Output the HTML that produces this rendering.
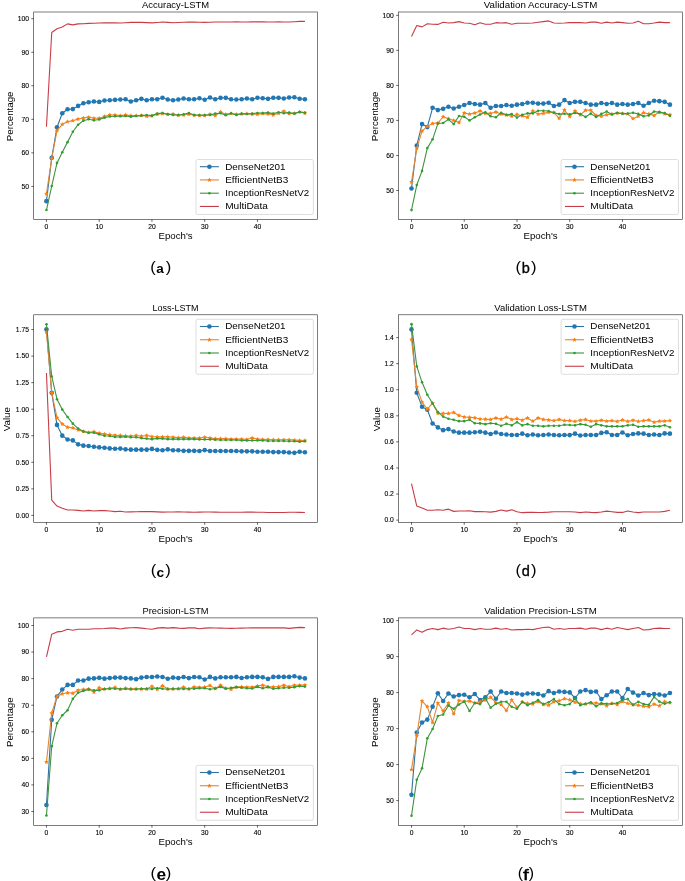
<!DOCTYPE html>
<html><head><meta charset="utf-8"><title>LSTM training curves</title>
<style>
html,body{margin:0;padding:0;background:#fff;overflow:hidden;}
svg{display:block;filter:blur(0.35px);}
text{font-family:"Liberation Sans", sans-serif;fill:#000;filter:url(#g);}
.tk{stroke:#000;stroke-width:0.12px;}
</style></head>
<body>
<svg width="685" height="881" viewBox="0 0 685 881">
<defs><filter id="g" x="-5%" y="-20%" width="110%" height="140%"><feColorMatrix type="saturate" values="0"/></filter></defs>
<rect width="685" height="881" fill="#fff"/>
<clipPath id="clipa"><rect x="33.7" y="12.0" width="283.7" height="207.5"/></clipPath>
<g clip-path="url(#clipa)">
<polyline points="46.45,201.16 51.73,157.89 57.00,127.20 62.28,113.28 67.55,109.26 72.83,109.09 78.10,105.90 83.38,103.22 88.65,102.21 93.93,101.54 99.20,101.88 104.48,100.54 109.75,100.20 115.03,99.87 120.30,99.53 125.58,99.20 130.85,101.54 136.12,100.20 141.40,98.86 146.68,100.20 151.95,99.20 157.23,99.20 162.50,97.69 167.78,99.53 173.05,100.20 178.32,99.53 183.60,98.53 188.88,99.20 194.15,99.20 199.43,98.19 204.70,99.70 209.98,97.52 215.25,99.20 220.53,97.85 225.80,97.85 231.07,99.20 236.35,99.53 241.62,99.20 246.90,98.53 252.18,99.20 257.45,97.69 262.73,98.19 268.00,98.86 273.28,97.69 278.55,97.85 283.83,98.53 289.10,97.52 294.38,97.18 299.65,98.69 304.93,99.20" fill="none" stroke="#34719c" stroke-width="1.1" stroke-linejoin="round"/>
<g fill="#1f77b4"><circle cx="46.45" cy="201.16" r="2.3"/><circle cx="51.73" cy="157.89" r="2.3"/><circle cx="57.00" cy="127.20" r="2.3"/><circle cx="62.28" cy="113.28" r="2.3"/><circle cx="67.55" cy="109.26" r="2.3"/><circle cx="72.83" cy="109.09" r="2.3"/><circle cx="78.10" cy="105.90" r="2.3"/><circle cx="83.38" cy="103.22" r="2.3"/><circle cx="88.65" cy="102.21" r="2.3"/><circle cx="93.93" cy="101.54" r="2.3"/><circle cx="99.20" cy="101.88" r="2.3"/><circle cx="104.48" cy="100.54" r="2.3"/><circle cx="109.75" cy="100.20" r="2.3"/><circle cx="115.03" cy="99.87" r="2.3"/><circle cx="120.30" cy="99.53" r="2.3"/><circle cx="125.58" cy="99.20" r="2.3"/><circle cx="130.85" cy="101.54" r="2.3"/><circle cx="136.12" cy="100.20" r="2.3"/><circle cx="141.40" cy="98.86" r="2.3"/><circle cx="146.68" cy="100.20" r="2.3"/><circle cx="151.95" cy="99.20" r="2.3"/><circle cx="157.23" cy="99.20" r="2.3"/><circle cx="162.50" cy="97.69" r="2.3"/><circle cx="167.78" cy="99.53" r="2.3"/><circle cx="173.05" cy="100.20" r="2.3"/><circle cx="178.32" cy="99.53" r="2.3"/><circle cx="183.60" cy="98.53" r="2.3"/><circle cx="188.88" cy="99.20" r="2.3"/><circle cx="194.15" cy="99.20" r="2.3"/><circle cx="199.43" cy="98.19" r="2.3"/><circle cx="204.70" cy="99.70" r="2.3"/><circle cx="209.98" cy="97.52" r="2.3"/><circle cx="215.25" cy="99.20" r="2.3"/><circle cx="220.53" cy="97.85" r="2.3"/><circle cx="225.80" cy="97.85" r="2.3"/><circle cx="231.07" cy="99.20" r="2.3"/><circle cx="236.35" cy="99.53" r="2.3"/><circle cx="241.62" cy="99.20" r="2.3"/><circle cx="246.90" cy="98.53" r="2.3"/><circle cx="252.18" cy="99.20" r="2.3"/><circle cx="257.45" cy="97.69" r="2.3"/><circle cx="262.73" cy="98.19" r="2.3"/><circle cx="268.00" cy="98.86" r="2.3"/><circle cx="273.28" cy="97.69" r="2.3"/><circle cx="278.55" cy="97.85" r="2.3"/><circle cx="283.83" cy="98.53" r="2.3"/><circle cx="289.10" cy="97.52" r="2.3"/><circle cx="294.38" cy="97.18" r="2.3"/><circle cx="299.65" cy="98.69" r="2.3"/><circle cx="304.93" cy="99.20" r="2.3"/></g>
<polyline points="46.45,193.78 51.73,158.23 57.00,130.72 62.28,124.35 67.55,121.67 72.83,120.66 78.10,118.98 83.38,117.98 88.65,117.31 93.93,118.31 99.20,118.31 104.48,116.47 109.75,114.96 115.03,114.96 120.30,115.63 125.58,114.96 130.85,115.63 136.12,115.63 141.40,115.46 146.68,116.30 151.95,115.97 157.23,114.29 162.50,113.62 167.78,114.29 173.05,113.95 178.32,115.30 183.60,114.96 188.88,114.29 194.15,115.30 199.43,115.63 204.70,115.63 209.98,114.29 215.25,115.63 220.53,111.94 225.80,114.29 231.07,113.62 236.35,114.29 241.62,113.95 246.90,113.62 252.18,114.29 257.45,114.29 262.73,113.62 268.00,113.95 273.28,114.96 278.55,113.28 283.83,111.27 289.10,113.62 294.38,113.28 299.65,111.94 304.93,113.28" fill="none" stroke="#e08738" stroke-width="1.1" stroke-linejoin="round"/>
<path fill="#ff7f0e" d="M46.45,191.43 L47.16,192.81 L48.68,193.05 L47.59,194.15 L47.83,195.68 L46.45,194.98 L45.07,195.68 L45.31,194.15 L44.22,193.05 L45.74,192.81ZM51.73,155.88 L52.43,157.26 L53.96,157.50 L52.87,158.60 L53.11,160.13 L51.73,159.43 L50.34,160.13 L50.58,158.60 L49.49,157.50 L51.02,157.26ZM57.00,128.37 L57.71,129.75 L59.23,130.00 L58.14,131.09 L58.38,132.62 L57.00,131.92 L55.62,132.62 L55.86,131.09 L54.77,130.00 L56.29,129.75ZM62.28,122.00 L62.98,123.38 L64.51,123.62 L63.42,124.72 L63.66,126.25 L62.28,125.55 L60.89,126.25 L61.13,124.72 L60.04,123.62 L61.57,123.38ZM67.55,119.32 L68.26,120.70 L69.78,120.94 L68.69,122.04 L68.93,123.57 L67.55,122.87 L66.17,123.57 L66.41,122.04 L65.32,120.94 L66.84,120.70ZM72.83,118.31 L73.53,119.69 L75.06,119.94 L73.97,121.03 L74.21,122.56 L72.83,121.86 L71.44,122.56 L71.68,121.03 L70.59,119.94 L72.12,119.69ZM78.10,116.63 L78.81,118.01 L80.33,118.26 L79.24,119.36 L79.48,120.89 L78.10,120.18 L76.72,120.89 L76.96,119.36 L75.87,118.26 L77.39,118.01ZM83.38,115.63 L84.08,117.01 L85.61,117.25 L84.52,118.35 L84.76,119.88 L83.38,119.18 L81.99,119.88 L82.23,118.35 L81.14,117.25 L82.67,117.01ZM88.65,114.96 L89.36,116.34 L90.88,116.58 L89.79,117.68 L90.03,119.21 L88.65,118.51 L87.27,119.21 L87.51,117.68 L86.42,116.58 L87.94,116.34ZM93.93,115.96 L94.63,117.34 L96.16,117.59 L95.07,118.68 L95.31,120.21 L93.93,119.51 L92.54,120.21 L92.78,118.68 L91.69,117.59 L93.22,117.34ZM99.20,115.96 L99.91,117.34 L101.43,117.59 L100.34,118.68 L100.58,120.21 L99.20,119.51 L97.82,120.21 L98.06,118.68 L96.97,117.59 L98.49,117.34ZM104.48,114.12 L105.18,115.50 L106.71,115.74 L105.62,116.84 L105.86,118.37 L104.48,117.67 L103.09,118.37 L103.33,116.84 L102.24,115.74 L103.77,115.50ZM109.75,112.61 L110.46,113.99 L111.98,114.23 L110.89,115.33 L111.13,116.86 L109.75,116.16 L108.37,116.86 L108.61,115.33 L107.52,114.23 L109.04,113.99ZM115.03,112.61 L115.73,113.99 L117.26,114.23 L116.17,115.33 L116.41,116.86 L115.03,116.16 L113.64,116.86 L113.88,115.33 L112.79,114.23 L114.32,113.99ZM120.30,113.28 L121.01,114.66 L122.53,114.90 L121.44,116.00 L121.68,117.53 L120.30,116.83 L118.92,117.53 L119.16,116.00 L118.07,114.90 L119.59,114.66ZM125.58,112.61 L126.28,113.99 L127.81,114.23 L126.72,115.33 L126.96,116.86 L125.58,116.16 L124.19,116.86 L124.43,115.33 L123.34,114.23 L124.87,113.99ZM130.85,113.28 L131.56,114.66 L133.08,114.90 L131.99,116.00 L132.23,117.53 L130.85,116.83 L129.47,117.53 L129.71,116.00 L128.62,114.90 L130.14,114.66ZM136.12,113.28 L136.83,114.66 L138.36,114.90 L137.27,116.00 L137.51,117.53 L136.12,116.83 L134.74,117.53 L134.98,116.00 L133.89,114.90 L135.42,114.66ZM141.40,113.11 L142.11,114.49 L143.63,114.74 L142.54,115.83 L142.78,117.36 L141.40,116.66 L140.02,117.36 L140.26,115.83 L139.17,114.74 L140.69,114.49ZM146.68,113.95 L147.38,115.33 L148.91,115.58 L147.82,116.67 L148.06,118.20 L146.68,117.50 L145.29,118.20 L145.53,116.67 L144.44,115.58 L145.97,115.33ZM151.95,113.62 L152.66,115.00 L154.18,115.24 L153.09,116.34 L153.33,117.87 L151.95,117.17 L150.57,117.87 L150.81,116.34 L149.72,115.24 L151.24,115.00ZM157.23,111.94 L157.93,113.32 L159.46,113.56 L158.37,114.66 L158.61,116.19 L157.23,115.49 L155.84,116.19 L156.08,114.66 L154.99,113.56 L156.52,113.32ZM162.50,111.27 L163.21,112.65 L164.73,112.89 L163.64,113.99 L163.88,115.52 L162.50,114.82 L161.12,115.52 L161.36,113.99 L160.27,112.89 L161.79,112.65ZM167.78,111.94 L168.48,113.32 L170.01,113.56 L168.92,114.66 L169.16,116.19 L167.78,115.49 L166.39,116.19 L166.63,114.66 L165.54,113.56 L167.07,113.32ZM173.05,111.60 L173.76,112.98 L175.28,113.23 L174.19,114.32 L174.43,115.85 L173.05,115.15 L171.67,115.85 L171.91,114.32 L170.82,113.23 L172.34,112.98ZM178.32,112.95 L179.03,114.32 L180.56,114.57 L179.47,115.67 L179.71,117.20 L178.32,116.50 L176.94,117.20 L177.18,115.67 L176.09,114.57 L177.62,114.32ZM183.60,112.61 L184.31,113.99 L185.83,114.23 L184.74,115.33 L184.98,116.86 L183.60,116.16 L182.22,116.86 L182.46,115.33 L181.37,114.23 L182.89,113.99ZM188.88,111.94 L189.58,113.32 L191.11,113.56 L190.02,114.66 L190.26,116.19 L188.88,115.49 L187.49,116.19 L187.73,114.66 L186.64,113.56 L188.17,113.32ZM194.15,112.95 L194.86,114.32 L196.38,114.57 L195.29,115.67 L195.53,117.20 L194.15,116.50 L192.77,117.20 L193.01,115.67 L191.92,114.57 L193.44,114.32ZM199.43,113.28 L200.13,114.66 L201.66,114.90 L200.57,116.00 L200.81,117.53 L199.43,116.83 L198.04,117.53 L198.28,116.00 L197.19,114.90 L198.72,114.66ZM204.70,113.28 L205.41,114.66 L206.93,114.90 L205.84,116.00 L206.08,117.53 L204.70,116.83 L203.32,117.53 L203.56,116.00 L202.47,114.90 L203.99,114.66ZM209.98,111.94 L210.68,113.32 L212.21,113.56 L211.12,114.66 L211.36,116.19 L209.98,115.49 L208.59,116.19 L208.83,114.66 L207.74,113.56 L209.27,113.32ZM215.25,113.28 L215.96,114.66 L217.48,114.90 L216.39,116.00 L216.63,117.53 L215.25,116.83 L213.87,117.53 L214.11,116.00 L213.02,114.90 L214.54,114.66ZM220.53,109.59 L221.23,110.97 L222.76,111.22 L221.67,112.31 L221.91,113.84 L220.53,113.14 L219.14,113.84 L219.38,112.31 L218.29,111.22 L219.82,110.97ZM225.80,111.94 L226.51,113.32 L228.03,113.56 L226.94,114.66 L227.18,116.19 L225.80,115.49 L224.42,116.19 L224.66,114.66 L223.57,113.56 L225.09,113.32ZM231.07,111.27 L231.78,112.65 L233.31,112.89 L232.22,113.99 L232.46,115.52 L231.07,114.82 L229.69,115.52 L229.93,113.99 L228.84,112.89 L230.37,112.65ZM236.35,111.94 L237.06,113.32 L238.58,113.56 L237.49,114.66 L237.73,116.19 L236.35,115.49 L234.97,116.19 L235.21,114.66 L234.12,113.56 L235.64,113.32ZM241.62,111.60 L242.33,112.98 L243.86,113.23 L242.77,114.32 L243.01,115.85 L241.62,115.15 L240.24,115.85 L240.48,114.32 L239.39,113.23 L240.92,112.98ZM246.90,111.27 L247.61,112.65 L249.13,112.89 L248.04,113.99 L248.28,115.52 L246.90,114.82 L245.52,115.52 L245.76,113.99 L244.67,112.89 L246.19,112.65ZM252.18,111.94 L252.88,113.32 L254.41,113.56 L253.32,114.66 L253.56,116.19 L252.18,115.49 L250.79,116.19 L251.03,114.66 L249.94,113.56 L251.47,113.32ZM257.45,111.94 L258.16,113.32 L259.68,113.56 L258.59,114.66 L258.83,116.19 L257.45,115.49 L256.07,116.19 L256.31,114.66 L255.22,113.56 L256.74,113.32ZM262.73,111.27 L263.43,112.65 L264.96,112.89 L263.87,113.99 L264.11,115.52 L262.73,114.82 L261.34,115.52 L261.58,113.99 L260.49,112.89 L262.02,112.65ZM268.00,111.60 L268.71,112.98 L270.23,113.23 L269.14,114.32 L269.38,115.85 L268.00,115.15 L266.62,115.85 L266.86,114.32 L265.77,113.23 L267.29,112.98ZM273.28,112.61 L273.98,113.99 L275.51,114.23 L274.42,115.33 L274.66,116.86 L273.28,116.16 L271.89,116.86 L272.13,115.33 L271.04,114.23 L272.57,113.99ZM278.55,110.93 L279.26,112.31 L280.78,112.56 L279.69,113.65 L279.93,115.18 L278.55,114.48 L277.17,115.18 L277.41,113.65 L276.32,112.56 L277.84,112.31ZM283.83,108.92 L284.53,110.30 L286.06,110.54 L284.97,111.64 L285.21,113.17 L283.83,112.47 L282.44,113.17 L282.68,111.64 L281.59,110.54 L283.12,110.30ZM289.10,111.27 L289.81,112.65 L291.33,112.89 L290.24,113.99 L290.48,115.52 L289.10,114.82 L287.72,115.52 L287.96,113.99 L286.87,112.89 L288.39,112.65ZM294.38,110.93 L295.08,112.31 L296.61,112.56 L295.52,113.65 L295.76,115.18 L294.38,114.48 L292.99,115.18 L293.23,113.65 L292.14,112.56 L293.67,112.31ZM299.65,109.59 L300.36,110.97 L301.88,111.22 L300.79,112.31 L301.03,113.84 L299.65,113.14 L298.27,113.84 L298.51,112.31 L297.42,111.22 L298.94,110.97ZM304.93,110.93 L305.63,112.31 L307.16,112.56 L306.07,113.65 L306.31,115.18 L304.93,114.48 L303.54,115.18 L303.78,113.65 L302.69,112.56 L304.22,112.31Z"/>
<polyline points="46.45,210.05 51.73,186.06 57.00,162.92 62.28,152.19 67.55,142.13 72.83,131.73 78.10,124.69 83.38,120.66 88.65,119.32 93.93,120.33 99.20,119.49 104.48,117.64 109.75,116.47 115.03,116.30 120.30,116.30 125.58,115.97 130.85,116.64 136.12,115.97 141.40,115.63 146.68,114.96 151.95,115.63 157.23,113.62 162.50,112.95 167.78,114.29 173.05,114.96 178.32,114.96 183.60,114.29 188.88,112.95 194.15,114.96 199.43,114.96 204.70,114.96 209.98,114.96 215.25,113.62 220.53,113.28 225.80,115.30 231.07,113.28 236.35,114.96 241.62,113.62 246.90,113.95 252.18,113.62 257.45,112.95 262.73,112.95 268.00,112.61 273.28,113.62 278.55,112.28 283.83,113.28 289.10,112.61 294.38,113.62 299.65,111.94 304.93,112.61" fill="none" stroke="#409240" stroke-width="1.1" stroke-linejoin="round"/>
<g fill="#2ca02c"><circle cx="46.45" cy="210.05" r="1.3"/><circle cx="51.73" cy="186.06" r="1.3"/><circle cx="57.00" cy="162.92" r="1.3"/><circle cx="62.28" cy="152.19" r="1.3"/><circle cx="67.55" cy="142.13" r="1.3"/><circle cx="72.83" cy="131.73" r="1.3"/><circle cx="78.10" cy="124.69" r="1.3"/><circle cx="83.38" cy="120.66" r="1.3"/><circle cx="88.65" cy="119.32" r="1.3"/><circle cx="93.93" cy="120.33" r="1.3"/><circle cx="99.20" cy="119.49" r="1.3"/><circle cx="104.48" cy="117.64" r="1.3"/><circle cx="109.75" cy="116.47" r="1.3"/><circle cx="115.03" cy="116.30" r="1.3"/><circle cx="120.30" cy="116.30" r="1.3"/><circle cx="125.58" cy="115.97" r="1.3"/><circle cx="130.85" cy="116.64" r="1.3"/><circle cx="136.12" cy="115.97" r="1.3"/><circle cx="141.40" cy="115.63" r="1.3"/><circle cx="146.68" cy="114.96" r="1.3"/><circle cx="151.95" cy="115.63" r="1.3"/><circle cx="157.23" cy="113.62" r="1.3"/><circle cx="162.50" cy="112.95" r="1.3"/><circle cx="167.78" cy="114.29" r="1.3"/><circle cx="173.05" cy="114.96" r="1.3"/><circle cx="178.32" cy="114.96" r="1.3"/><circle cx="183.60" cy="114.29" r="1.3"/><circle cx="188.88" cy="112.95" r="1.3"/><circle cx="194.15" cy="114.96" r="1.3"/><circle cx="199.43" cy="114.96" r="1.3"/><circle cx="204.70" cy="114.96" r="1.3"/><circle cx="209.98" cy="114.96" r="1.3"/><circle cx="215.25" cy="113.62" r="1.3"/><circle cx="220.53" cy="113.28" r="1.3"/><circle cx="225.80" cy="115.30" r="1.3"/><circle cx="231.07" cy="113.28" r="1.3"/><circle cx="236.35" cy="114.96" r="1.3"/><circle cx="241.62" cy="113.62" r="1.3"/><circle cx="246.90" cy="113.95" r="1.3"/><circle cx="252.18" cy="113.62" r="1.3"/><circle cx="257.45" cy="112.95" r="1.3"/><circle cx="262.73" cy="112.95" r="1.3"/><circle cx="268.00" cy="112.61" r="1.3"/><circle cx="273.28" cy="113.62" r="1.3"/><circle cx="278.55" cy="112.28" r="1.3"/><circle cx="283.83" cy="113.28" r="1.3"/><circle cx="289.10" cy="112.61" r="1.3"/><circle cx="294.38" cy="113.62" r="1.3"/><circle cx="299.65" cy="111.94" r="1.3"/><circle cx="304.93" cy="112.61" r="1.3"/></g>
<polyline points="46.45,126.70 51.73,32.45 57.00,28.76 62.28,27.09 67.55,23.90 72.83,24.90 78.10,23.90 83.38,23.73 88.65,23.40 93.93,23.23 99.20,23.06 104.48,22.89 109.75,22.72 115.03,22.89 120.30,23.06 125.58,22.72 130.85,22.39 136.12,22.39 141.40,22.39 146.68,22.64 151.95,22.89 157.23,22.47 162.50,22.05 167.78,22.39 173.05,22.72 178.32,22.47 183.60,22.22 188.88,22.14 194.15,22.05 199.43,22.22 204.70,22.39 209.98,22.22 215.25,22.05 220.53,22.05 225.80,22.05 231.07,21.97 236.35,21.89 241.62,21.97 246.90,22.05 252.18,21.89 257.45,21.72 262.73,21.89 268.00,22.05 273.28,21.97 278.55,21.89 283.83,21.97 289.10,22.05 294.38,21.72 299.65,21.38 304.93,21.38" fill="none" stroke="#c83c46" stroke-width="1.1" stroke-linejoin="round"/>
</g>
<rect x="33.7" y="12.0" width="283.70" height="207.50" fill="none" stroke="#262626" stroke-width="0.6"/>
<text x="46.45" y="229.05" font-size="6.95" text-anchor="middle" textLength="3.75" lengthAdjust="spacingAndGlyphs" class="tk">0</text>
<text x="99.20" y="229.05" font-size="6.95" text-anchor="middle" textLength="7.51" lengthAdjust="spacingAndGlyphs" class="tk">10</text>
<text x="151.95" y="229.05" font-size="6.95" text-anchor="middle" textLength="7.51" lengthAdjust="spacingAndGlyphs" class="tk">20</text>
<text x="204.70" y="229.05" font-size="6.95" text-anchor="middle" textLength="7.51" lengthAdjust="spacingAndGlyphs" class="tk">30</text>
<text x="257.45" y="229.05" font-size="6.95" text-anchor="middle" textLength="7.51" lengthAdjust="spacingAndGlyphs" class="tk">40</text>
<text x="28.90" y="188.70" font-size="6.95" text-anchor="end" textLength="7.51" lengthAdjust="spacingAndGlyphs" class="tk">50</text>
<text x="28.90" y="155.16" font-size="6.95" text-anchor="end" textLength="7.51" lengthAdjust="spacingAndGlyphs" class="tk">60</text>
<text x="28.90" y="121.62" font-size="6.95" text-anchor="end" textLength="7.51" lengthAdjust="spacingAndGlyphs" class="tk">70</text>
<text x="28.90" y="88.08" font-size="6.95" text-anchor="end" textLength="7.51" lengthAdjust="spacingAndGlyphs" class="tk">80</text>
<text x="28.90" y="54.54" font-size="6.95" text-anchor="end" textLength="7.51" lengthAdjust="spacingAndGlyphs" class="tk">90</text>
<text x="28.90" y="21.00" font-size="6.95" text-anchor="end" textLength="11.26" lengthAdjust="spacingAndGlyphs" class="tk">100</text>
<path d="M46.45,219.50v2.4 M99.20,219.50v2.4 M151.95,219.50v2.4 M204.70,219.50v2.4 M257.45,219.50v2.4 M33.70,186.40h-2.4 M33.70,152.86h-2.4 M33.70,119.32h-2.4 M33.70,85.78h-2.4 M33.70,52.24h-2.4 M33.70,18.70h-2.4" stroke="#000" stroke-width="0.6"/>
<text x="175.55" y="8.00" font-size="9.3" text-anchor="middle" textLength="66.96" lengthAdjust="spacingAndGlyphs">Accuracy-LSTM</text>
<text x="175.55" y="239.30" font-size="9.3" text-anchor="middle" textLength="34.10" lengthAdjust="spacingAndGlyphs">Epoch&#39;s</text>
<g filter="url(#g)"><g transform="translate(13.44,116.35) rotate(-90)"><text x="0.00" y="0.00" font-size="9.3" text-anchor="middle" textLength="49.73" lengthAdjust="spacingAndGlyphs" style="filter:none">Percentage</text></g></g>
<rect x="196.00" y="159.50" width="117.4" height="55.0" rx="1.8" fill="#fff" fill-opacity="0.8" stroke="#d0d0d0" stroke-width="0.7"/>
<path d="M199.90,166.70h19" stroke="#34719c" stroke-width="1.1"/>
<circle cx="209.40" cy="166.70" r="2.3" fill="#1f77b4"/>
<text x="225.20" y="169.55" font-size="9.3" text-anchor="start" textLength="60.28" lengthAdjust="spacingAndGlyphs">DenseNet201</text>
<path d="M199.90,179.95h19" stroke="#e08738" stroke-width="1.1"/>
<path d="M209.40,177.60 L210.11,178.98 L211.63,179.22 L210.54,180.32 L210.78,181.85 L209.40,181.15 L208.02,181.85 L208.26,180.32 L207.17,179.22 L208.69,178.98Z" fill="#ff7f0e"/>
<text x="225.20" y="182.80" font-size="9.3" text-anchor="start" textLength="63.16" lengthAdjust="spacingAndGlyphs">EfficientNetB3</text>
<path d="M199.90,193.20h19" stroke="#409240" stroke-width="1.1"/>
<circle cx="209.40" cy="193.20" r="1.3" fill="#2ca02c"/>
<text x="225.20" y="196.05" font-size="9.3" text-anchor="start" textLength="84.03" lengthAdjust="spacingAndGlyphs">InceptionResNetV2</text>
<path d="M199.90,206.45h19" stroke="#c83c46" stroke-width="1.1"/>
<text x="225.20" y="209.30" font-size="9.3" text-anchor="start" textLength="42.72" lengthAdjust="spacingAndGlyphs">MultiData</text>
<clipPath id="clipb"><rect x="398.6" y="12.0" width="283.9" height="207.5"/></clipPath>
<g clip-path="url(#clipb)">
<polyline points="411.50,188.57 416.77,145.47 422.05,124.10 427.32,127.08 432.60,107.81 437.87,110.08 443.14,108.86 448.42,106.75 453.69,108.51 458.97,106.75 464.24,105.00 469.51,103.01 474.79,103.95 480.06,104.65 485.34,103.01 490.61,107.81 495.88,106.05 501.16,106.05 506.43,105.00 511.71,105.70 516.98,104.65 522.25,103.95 527.53,102.72 532.80,102.72 538.08,103.60 543.35,103.60 548.62,102.72 553.90,106.05 559.17,104.65 564.45,100.10 569.72,103.04 574.99,101.85 580.27,101.85 585.54,102.97 590.82,104.65 596.09,104.65 601.36,102.97 606.64,103.95 611.91,102.97 617.19,104.65 622.46,103.95 627.73,104.65 633.01,103.95 638.28,102.97 643.56,105.70 648.83,102.97 654.10,100.80 659.38,101.15 664.65,101.85 669.93,104.65" fill="none" stroke="#34719c" stroke-width="1.1" stroke-linejoin="round"/>
<g fill="#1f77b4"><circle cx="411.50" cy="188.57" r="2.3"/><circle cx="416.77" cy="145.47" r="2.3"/><circle cx="422.05" cy="124.10" r="2.3"/><circle cx="427.32" cy="127.08" r="2.3"/><circle cx="432.60" cy="107.81" r="2.3"/><circle cx="437.87" cy="110.08" r="2.3"/><circle cx="443.14" cy="108.86" r="2.3"/><circle cx="448.42" cy="106.75" r="2.3"/><circle cx="453.69" cy="108.51" r="2.3"/><circle cx="458.97" cy="106.75" r="2.3"/><circle cx="464.24" cy="105.00" r="2.3"/><circle cx="469.51" cy="103.01" r="2.3"/><circle cx="474.79" cy="103.95" r="2.3"/><circle cx="480.06" cy="104.65" r="2.3"/><circle cx="485.34" cy="103.01" r="2.3"/><circle cx="490.61" cy="107.81" r="2.3"/><circle cx="495.88" cy="106.05" r="2.3"/><circle cx="501.16" cy="106.05" r="2.3"/><circle cx="506.43" cy="105.00" r="2.3"/><circle cx="511.71" cy="105.70" r="2.3"/><circle cx="516.98" cy="104.65" r="2.3"/><circle cx="522.25" cy="103.95" r="2.3"/><circle cx="527.53" cy="102.72" r="2.3"/><circle cx="532.80" cy="102.72" r="2.3"/><circle cx="538.08" cy="103.60" r="2.3"/><circle cx="543.35" cy="103.60" r="2.3"/><circle cx="548.62" cy="102.72" r="2.3"/><circle cx="553.90" cy="106.05" r="2.3"/><circle cx="559.17" cy="104.65" r="2.3"/><circle cx="564.45" cy="100.10" r="2.3"/><circle cx="569.72" cy="103.04" r="2.3"/><circle cx="574.99" cy="101.85" r="2.3"/><circle cx="580.27" cy="101.85" r="2.3"/><circle cx="585.54" cy="102.97" r="2.3"/><circle cx="590.82" cy="104.65" r="2.3"/><circle cx="596.09" cy="104.65" r="2.3"/><circle cx="601.36" cy="102.97" r="2.3"/><circle cx="606.64" cy="103.95" r="2.3"/><circle cx="611.91" cy="102.97" r="2.3"/><circle cx="617.19" cy="104.65" r="2.3"/><circle cx="622.46" cy="103.95" r="2.3"/><circle cx="627.73" cy="104.65" r="2.3"/><circle cx="633.01" cy="103.95" r="2.3"/><circle cx="638.28" cy="102.97" r="2.3"/><circle cx="643.56" cy="105.70" r="2.3"/><circle cx="648.83" cy="102.97" r="2.3"/><circle cx="654.10" cy="100.80" r="2.3"/><circle cx="659.38" cy="101.15" r="2.3"/><circle cx="664.65" cy="101.85" r="2.3"/><circle cx="669.93" cy="104.65" r="2.3"/></g>
<polyline points="411.50,182.09 416.77,148.45 422.05,131.04 427.32,126.38 432.60,123.57 437.87,123.05 443.14,116.74 448.42,118.67 453.69,120.42 458.97,122.52 464.24,113.06 469.51,114.11 474.79,113.06 480.06,110.96 485.34,113.41 490.61,113.41 495.88,112.01 501.16,114.11 506.43,115.16 511.71,116.22 516.98,114.46 522.25,115.86 527.53,117.27 532.80,110.96 538.08,114.11 543.35,113.41 548.62,112.36 553.90,112.54 559.17,118.32 564.45,110.05 569.72,116.57 574.99,110.96 580.27,114.81 585.54,110.26 590.82,110.26 596.09,115.51 601.36,116.22 606.64,114.81 611.91,113.90 617.19,113.06 622.46,113.59 627.73,113.90 633.01,118.67 638.28,116.22 643.56,112.71 648.83,113.90 654.10,115.51 659.38,112.01 664.65,113.90 669.93,114.81" fill="none" stroke="#e08738" stroke-width="1.1" stroke-linejoin="round"/>
<path fill="#ff7f0e" d="M411.50,179.74 L412.21,181.12 L413.73,181.36 L412.64,182.46 L412.88,183.99 L411.50,183.29 L410.12,183.99 L410.36,182.46 L409.27,181.36 L410.79,181.12ZM416.77,146.10 L417.48,147.48 L419.01,147.73 L417.92,148.82 L418.16,150.35 L416.77,149.65 L415.39,150.35 L415.63,148.82 L414.54,147.73 L416.07,147.48ZM422.05,128.69 L422.75,130.07 L424.28,130.31 L423.19,131.41 L423.43,132.94 L422.05,132.24 L420.67,132.94 L420.91,131.41 L419.81,130.31 L421.34,130.07ZM427.32,124.03 L428.03,125.41 L429.56,125.65 L428.46,126.75 L428.70,128.28 L427.32,127.58 L425.94,128.28 L426.18,126.75 L425.09,125.65 L426.62,125.41ZM432.60,121.22 L433.30,122.60 L434.83,122.85 L433.74,123.94 L433.98,125.47 L432.60,124.77 L431.21,125.47 L431.45,123.94 L430.36,122.85 L431.89,122.60ZM437.87,120.70 L438.58,122.08 L440.10,122.32 L439.01,123.42 L439.25,124.95 L437.87,124.25 L436.49,124.95 L436.73,123.42 L435.64,122.32 L437.16,122.08ZM443.14,114.39 L443.85,115.77 L445.38,116.01 L444.29,117.11 L444.53,118.64 L443.14,117.94 L441.76,118.64 L442.00,117.11 L440.91,116.01 L442.44,115.77ZM448.42,116.32 L449.12,117.70 L450.65,117.94 L449.56,119.04 L449.80,120.57 L448.42,119.87 L447.04,120.57 L447.28,119.04 L446.18,117.94 L447.71,117.70ZM453.69,118.07 L454.40,119.45 L455.93,119.69 L454.83,120.79 L455.07,122.32 L453.69,121.62 L452.31,122.32 L452.55,120.79 L451.46,119.69 L452.99,119.45ZM458.97,120.17 L459.67,121.55 L461.20,121.80 L460.11,122.89 L460.35,124.42 L458.97,123.72 L457.58,124.42 L457.82,122.89 L456.73,121.80 L458.26,121.55ZM464.24,110.71 L464.95,112.09 L466.47,112.34 L465.38,113.43 L465.62,114.96 L464.24,114.26 L462.86,114.96 L463.10,113.43 L462.01,112.34 L463.53,112.09ZM469.51,111.76 L470.22,113.14 L471.75,113.39 L470.66,114.48 L470.90,116.01 L469.51,115.31 L468.13,116.01 L468.37,114.48 L467.28,113.39 L468.81,113.14ZM474.79,110.71 L475.49,112.09 L477.02,112.34 L475.93,113.43 L476.17,114.96 L474.79,114.26 L473.41,114.96 L473.65,113.43 L472.55,112.34 L474.08,112.09ZM480.06,108.61 L480.77,109.99 L482.30,110.23 L481.20,111.33 L481.44,112.86 L480.06,112.16 L478.68,112.86 L478.92,111.33 L477.83,110.23 L479.36,109.99ZM485.34,111.06 L486.04,112.44 L487.57,112.69 L486.48,113.78 L486.72,115.31 L485.34,114.61 L483.95,115.31 L484.19,113.78 L483.10,112.69 L484.63,112.44ZM490.61,111.06 L491.32,112.44 L492.84,112.69 L491.75,113.78 L491.99,115.31 L490.61,114.61 L489.23,115.31 L489.47,113.78 L488.38,112.69 L489.90,112.44ZM495.88,109.66 L496.59,111.04 L498.12,111.28 L497.03,112.38 L497.27,113.91 L495.88,113.21 L494.50,113.91 L494.74,112.38 L493.65,111.28 L495.18,111.04ZM501.16,111.76 L501.86,113.14 L503.39,113.39 L502.30,114.48 L502.54,116.01 L501.16,115.31 L499.78,116.01 L500.02,114.48 L498.92,113.39 L500.45,113.14ZM506.43,112.81 L507.14,114.19 L508.67,114.44 L507.57,115.53 L507.81,117.07 L506.43,116.36 L505.05,117.07 L505.29,115.53 L504.20,114.44 L505.73,114.19ZM511.71,113.87 L512.41,115.24 L513.94,115.49 L512.85,116.59 L513.09,118.12 L511.71,117.42 L510.32,118.12 L510.56,116.59 L509.47,115.49 L511.00,115.24ZM516.98,112.11 L517.69,113.49 L519.21,113.74 L518.12,114.83 L518.36,116.36 L516.98,115.66 L515.60,116.36 L515.84,114.83 L514.75,113.74 L516.27,113.49ZM522.25,113.51 L522.96,114.89 L524.49,115.14 L523.40,116.24 L523.64,117.77 L522.25,117.06 L520.87,117.77 L521.11,116.24 L520.02,115.14 L521.55,114.89ZM527.53,114.92 L528.23,116.30 L529.76,116.54 L528.67,117.64 L528.91,119.17 L527.53,118.47 L526.15,119.17 L526.39,117.64 L525.29,116.54 L526.82,116.30ZM532.80,108.61 L533.51,109.99 L535.04,110.23 L533.94,111.33 L534.18,112.86 L532.80,112.16 L531.42,112.86 L531.66,111.33 L530.57,110.23 L532.10,109.99ZM538.08,111.76 L538.78,113.14 L540.31,113.39 L539.22,114.48 L539.46,116.01 L538.08,115.31 L536.69,116.01 L536.93,114.48 L535.84,113.39 L537.37,113.14ZM543.35,111.06 L544.06,112.44 L545.58,112.69 L544.49,113.78 L544.73,115.31 L543.35,114.61 L541.97,115.31 L542.21,113.78 L541.12,112.69 L542.64,112.44ZM548.62,110.01 L549.33,111.39 L550.86,111.63 L549.77,112.73 L550.01,114.26 L548.62,113.56 L547.24,114.26 L547.48,112.73 L546.39,111.63 L547.92,111.39ZM553.90,110.19 L554.60,111.57 L556.13,111.81 L555.04,112.91 L555.28,114.44 L553.90,113.74 L552.52,114.44 L552.76,112.91 L551.66,111.81 L553.19,111.57ZM559.17,115.97 L559.88,117.35 L561.41,117.59 L560.31,118.69 L560.55,120.22 L559.17,119.52 L557.79,120.22 L558.03,118.69 L556.94,117.59 L558.47,117.35ZM564.45,107.70 L565.15,109.08 L566.68,109.32 L565.59,110.42 L565.83,111.95 L564.45,111.25 L563.06,111.95 L563.30,110.42 L562.21,109.32 L563.74,109.08ZM569.72,114.22 L570.43,115.59 L571.95,115.84 L570.86,116.94 L571.10,118.47 L569.72,117.77 L568.34,118.47 L568.58,116.94 L567.49,115.84 L569.01,115.59ZM574.99,108.61 L575.70,109.99 L577.23,110.23 L576.14,111.33 L576.38,112.86 L574.99,112.16 L573.61,112.86 L573.85,111.33 L572.76,110.23 L574.29,109.99ZM580.27,112.46 L580.97,113.84 L582.50,114.09 L581.41,115.18 L581.65,116.71 L580.27,116.01 L578.89,116.71 L579.13,115.18 L578.03,114.09 L579.56,113.84ZM585.54,107.91 L586.25,109.29 L587.78,109.53 L586.68,110.63 L586.92,112.16 L585.54,111.46 L584.16,112.16 L584.40,110.63 L583.31,109.53 L584.84,109.29ZM590.82,107.91 L591.52,109.29 L593.05,109.53 L591.96,110.63 L592.20,112.16 L590.82,111.46 L589.43,112.16 L589.67,110.63 L588.58,109.53 L590.11,109.29ZM596.09,113.16 L596.80,114.54 L598.32,114.79 L597.23,115.89 L597.47,117.42 L596.09,116.71 L594.71,117.42 L594.95,115.89 L593.86,114.79 L595.38,114.54ZM601.36,113.87 L602.07,115.24 L603.60,115.49 L602.51,116.59 L602.75,118.12 L601.36,117.42 L599.98,118.12 L600.22,116.59 L599.13,115.49 L600.66,115.24ZM606.64,112.46 L607.34,113.84 L608.87,114.09 L607.78,115.18 L608.02,116.71 L606.64,116.01 L605.26,116.71 L605.50,115.18 L604.40,114.09 L605.93,113.84ZM611.91,111.55 L612.62,112.93 L614.15,113.18 L613.05,114.27 L613.29,115.80 L611.91,115.10 L610.53,115.80 L610.77,114.27 L609.68,113.18 L611.21,112.93ZM617.19,110.71 L617.89,112.09 L619.42,112.34 L618.33,113.43 L618.57,114.96 L617.19,114.26 L615.80,114.96 L616.04,113.43 L614.95,112.34 L616.48,112.09ZM622.46,111.24 L623.17,112.62 L624.69,112.86 L623.60,113.96 L623.84,115.49 L622.46,114.79 L621.08,115.49 L621.32,113.96 L620.23,112.86 L621.75,112.62ZM627.73,111.55 L628.44,112.93 L629.97,113.18 L628.88,114.27 L629.12,115.80 L627.73,115.10 L626.35,115.80 L626.59,114.27 L625.50,113.18 L627.03,112.93ZM633.01,116.32 L633.71,117.70 L635.24,117.94 L634.15,119.04 L634.39,120.57 L633.01,119.87 L631.63,120.57 L631.87,119.04 L630.77,117.94 L632.30,117.70ZM638.28,113.87 L638.99,115.24 L640.52,115.49 L639.42,116.59 L639.66,118.12 L638.28,117.42 L636.90,118.12 L637.14,116.59 L636.05,115.49 L637.58,115.24ZM643.56,110.36 L644.26,111.74 L645.79,111.99 L644.70,113.08 L644.94,114.61 L643.56,113.91 L642.17,114.61 L642.41,113.08 L641.32,111.99 L642.85,111.74ZM648.83,111.55 L649.54,112.93 L651.06,113.18 L649.97,114.27 L650.21,115.80 L648.83,115.10 L647.45,115.80 L647.69,114.27 L646.60,113.18 L648.12,112.93ZM654.10,113.16 L654.81,114.54 L656.34,114.79 L655.25,115.89 L655.49,117.42 L654.10,116.71 L652.72,117.42 L652.96,115.89 L651.87,114.79 L653.40,114.54ZM659.38,109.66 L660.08,111.04 L661.61,111.28 L660.52,112.38 L660.76,113.91 L659.38,113.21 L658.00,113.91 L658.24,112.38 L657.14,111.28 L658.67,111.04ZM664.65,111.55 L665.36,112.93 L666.89,113.18 L665.79,114.27 L666.03,115.80 L664.65,115.10 L663.27,115.80 L663.51,114.27 L662.42,113.18 L663.95,112.93ZM669.93,112.46 L670.63,113.84 L672.16,114.09 L671.07,115.18 L671.31,116.71 L669.93,116.01 L668.54,116.71 L668.78,115.18 L667.69,114.09 L669.22,113.84Z"/>
<polyline points="411.50,210.12 416.77,185.03 422.05,170.88 427.32,148.10 432.60,139.34 437.87,123.57 443.14,123.05 448.42,119.37 453.69,124.10 458.97,115.97 464.24,116.71 469.51,120.42 474.79,117.27 480.06,114.46 485.34,112.36 490.61,116.22 495.88,117.27 501.16,112.71 506.43,114.81 511.71,114.11 516.98,117.62 522.25,114.81 527.53,113.41 532.80,113.41 538.08,110.78 543.35,110.78 548.62,110.96 553.90,112.71 559.17,114.11 564.45,113.76 569.72,114.29 574.99,113.06 580.27,114.11 585.54,116.92 590.82,113.59 596.09,116.92 601.36,113.90 606.64,111.48 611.91,114.46 617.19,113.06 622.46,113.59 627.73,113.59 633.01,112.71 638.28,113.90 643.56,116.22 648.83,115.51 654.10,111.48 659.38,112.36 664.65,113.06 669.93,115.86" fill="none" stroke="#409240" stroke-width="1.1" stroke-linejoin="round"/>
<g fill="#2ca02c"><circle cx="411.50" cy="210.12" r="1.3"/><circle cx="416.77" cy="185.03" r="1.3"/><circle cx="422.05" cy="170.88" r="1.3"/><circle cx="427.32" cy="148.10" r="1.3"/><circle cx="432.60" cy="139.34" r="1.3"/><circle cx="437.87" cy="123.57" r="1.3"/><circle cx="443.14" cy="123.05" r="1.3"/><circle cx="448.42" cy="119.37" r="1.3"/><circle cx="453.69" cy="124.10" r="1.3"/><circle cx="458.97" cy="115.97" r="1.3"/><circle cx="464.24" cy="116.71" r="1.3"/><circle cx="469.51" cy="120.42" r="1.3"/><circle cx="474.79" cy="117.27" r="1.3"/><circle cx="480.06" cy="114.46" r="1.3"/><circle cx="485.34" cy="112.36" r="1.3"/><circle cx="490.61" cy="116.22" r="1.3"/><circle cx="495.88" cy="117.27" r="1.3"/><circle cx="501.16" cy="112.71" r="1.3"/><circle cx="506.43" cy="114.81" r="1.3"/><circle cx="511.71" cy="114.11" r="1.3"/><circle cx="516.98" cy="117.62" r="1.3"/><circle cx="522.25" cy="114.81" r="1.3"/><circle cx="527.53" cy="113.41" r="1.3"/><circle cx="532.80" cy="113.41" r="1.3"/><circle cx="538.08" cy="110.78" r="1.3"/><circle cx="543.35" cy="110.78" r="1.3"/><circle cx="548.62" cy="110.96" r="1.3"/><circle cx="553.90" cy="112.71" r="1.3"/><circle cx="559.17" cy="114.11" r="1.3"/><circle cx="564.45" cy="113.76" r="1.3"/><circle cx="569.72" cy="114.29" r="1.3"/><circle cx="574.99" cy="113.06" r="1.3"/><circle cx="580.27" cy="114.11" r="1.3"/><circle cx="585.54" cy="116.92" r="1.3"/><circle cx="590.82" cy="113.59" r="1.3"/><circle cx="596.09" cy="116.92" r="1.3"/><circle cx="601.36" cy="113.90" r="1.3"/><circle cx="606.64" cy="111.48" r="1.3"/><circle cx="611.91" cy="114.46" r="1.3"/><circle cx="617.19" cy="113.06" r="1.3"/><circle cx="622.46" cy="113.59" r="1.3"/><circle cx="627.73" cy="113.59" r="1.3"/><circle cx="633.01" cy="112.71" r="1.3"/><circle cx="638.28" cy="113.90" r="1.3"/><circle cx="643.56" cy="116.22" r="1.3"/><circle cx="648.83" cy="115.51" r="1.3"/><circle cx="654.10" cy="111.48" r="1.3"/><circle cx="659.38" cy="112.36" r="1.3"/><circle cx="664.65" cy="113.06" r="1.3"/><circle cx="669.93" cy="115.86" r="1.3"/></g>
<polyline points="411.50,36.50 416.77,25.46 422.05,26.86 427.32,23.71 432.60,24.24 437.87,24.41 443.14,22.31 448.42,23.01 453.69,22.66 458.97,21.61 464.24,23.01 469.51,23.18 474.79,24.76 480.06,22.66 485.34,24.24 490.61,24.24 495.88,22.66 501.16,23.01 506.43,22.66 511.71,24.24 516.98,23.18 522.25,23.18 527.53,23.18 532.80,23.01 538.08,22.31 543.35,21.61 548.62,20.91 553.90,23.01 559.17,23.18 564.45,23.01 569.72,22.66 574.99,22.66 580.27,22.66 585.54,23.01 590.82,22.13 596.09,22.13 601.36,23.18 606.64,22.13 611.91,23.01 617.19,22.13 622.46,22.66 627.73,23.18 633.01,23.01 638.28,21.26 643.56,23.71 648.83,23.71 654.10,23.01 659.38,22.13 664.65,22.66 669.93,22.66" fill="none" stroke="#c83c46" stroke-width="1.1" stroke-linejoin="round"/>
</g>
<rect x="398.6" y="12.0" width="283.90" height="207.50" fill="none" stroke="#262626" stroke-width="0.6"/>
<text x="411.50" y="229.05" font-size="6.95" text-anchor="middle" textLength="3.75" lengthAdjust="spacingAndGlyphs" class="tk">0</text>
<text x="464.24" y="229.05" font-size="6.95" text-anchor="middle" textLength="7.51" lengthAdjust="spacingAndGlyphs" class="tk">10</text>
<text x="516.98" y="229.05" font-size="6.95" text-anchor="middle" textLength="7.51" lengthAdjust="spacingAndGlyphs" class="tk">20</text>
<text x="569.72" y="229.05" font-size="6.95" text-anchor="middle" textLength="7.51" lengthAdjust="spacingAndGlyphs" class="tk">30</text>
<text x="622.46" y="229.05" font-size="6.95" text-anchor="middle" textLength="7.51" lengthAdjust="spacingAndGlyphs" class="tk">40</text>
<text x="393.80" y="192.80" font-size="6.95" text-anchor="end" textLength="7.51" lengthAdjust="spacingAndGlyphs" class="tk">50</text>
<text x="393.80" y="157.76" font-size="6.95" text-anchor="end" textLength="7.51" lengthAdjust="spacingAndGlyphs" class="tk">60</text>
<text x="393.80" y="122.72" font-size="6.95" text-anchor="end" textLength="7.51" lengthAdjust="spacingAndGlyphs" class="tk">70</text>
<text x="393.80" y="87.68" font-size="6.95" text-anchor="end" textLength="7.51" lengthAdjust="spacingAndGlyphs" class="tk">80</text>
<text x="393.80" y="52.64" font-size="6.95" text-anchor="end" textLength="7.51" lengthAdjust="spacingAndGlyphs" class="tk">90</text>
<text x="393.80" y="17.60" font-size="6.95" text-anchor="end" textLength="11.26" lengthAdjust="spacingAndGlyphs" class="tk">100</text>
<path d="M411.50,219.50v2.4 M464.24,219.50v2.4 M516.98,219.50v2.4 M569.72,219.50v2.4 M622.46,219.50v2.4 M398.60,190.50h-2.4 M398.60,155.46h-2.4 M398.60,120.42h-2.4 M398.60,85.38h-2.4 M398.60,50.34h-2.4 M398.60,15.30h-2.4" stroke="#000" stroke-width="0.6"/>
<text x="540.55" y="8.00" font-size="9.3" text-anchor="middle" textLength="113.42" lengthAdjust="spacingAndGlyphs">Validation Accuracy-LSTM</text>
<text x="540.55" y="239.30" font-size="9.3" text-anchor="middle" textLength="34.10" lengthAdjust="spacingAndGlyphs">Epoch&#39;s</text>
<g filter="url(#g)"><g transform="translate(378.34,116.35) rotate(-90)"><text x="0.00" y="0.00" font-size="9.3" text-anchor="middle" textLength="49.73" lengthAdjust="spacingAndGlyphs" style="filter:none">Percentage</text></g></g>
<rect x="561.10" y="159.50" width="117.4" height="55.0" rx="1.8" fill="#fff" fill-opacity="0.8" stroke="#d0d0d0" stroke-width="0.7"/>
<path d="M565.00,166.70h19" stroke="#34719c" stroke-width="1.1"/>
<circle cx="574.50" cy="166.70" r="2.3" fill="#1f77b4"/>
<text x="590.30" y="169.55" font-size="9.3" text-anchor="start" textLength="60.28" lengthAdjust="spacingAndGlyphs">DenseNet201</text>
<path d="M565.00,179.95h19" stroke="#e08738" stroke-width="1.1"/>
<path d="M574.50,177.60 L575.21,178.98 L576.73,179.22 L575.64,180.32 L575.88,181.85 L574.50,181.15 L573.12,181.85 L573.36,180.32 L572.27,179.22 L573.79,178.98Z" fill="#ff7f0e"/>
<text x="590.30" y="182.80" font-size="9.3" text-anchor="start" textLength="63.16" lengthAdjust="spacingAndGlyphs">EfficientNetB3</text>
<path d="M565.00,193.20h19" stroke="#409240" stroke-width="1.1"/>
<circle cx="574.50" cy="193.20" r="1.3" fill="#2ca02c"/>
<text x="590.30" y="196.05" font-size="9.3" text-anchor="start" textLength="84.03" lengthAdjust="spacingAndGlyphs">InceptionResNetV2</text>
<path d="M565.00,206.45h19" stroke="#c83c46" stroke-width="1.1"/>
<text x="590.30" y="209.30" font-size="9.3" text-anchor="start" textLength="42.72" lengthAdjust="spacingAndGlyphs">MultiData</text>
<clipPath id="clipc"><rect x="33.7" y="314.8" width="283.7" height="207.59999999999997"/></clipPath>
<g clip-path="url(#clipc)">
<polyline points="46.45,329.23 51.73,392.85 57.00,424.92 62.28,435.64 67.55,439.47 72.83,440.42 78.10,444.35 83.38,445.63 88.65,446.05 93.93,446.69 99.20,447.33 104.48,447.75 109.75,448.39 115.03,448.71 120.30,448.60 125.58,449.34 130.85,449.66 136.12,449.66 141.40,449.66 146.68,449.66 151.95,448.92 157.23,449.87 162.50,450.30 167.78,449.34 173.05,450.30 178.32,450.30 183.60,450.83 188.88,450.83 194.15,450.83 199.43,451.04 204.70,450.09 209.98,451.04 215.25,451.04 220.53,451.04 225.80,451.04 231.07,451.04 236.35,451.04 241.62,451.36 246.90,451.36 252.18,451.36 257.45,451.79 262.73,451.79 268.00,451.79 273.28,452.10 278.55,452.10 283.83,452.10 289.10,452.53 294.38,452.85 299.65,451.79 304.93,452.21" fill="none" stroke="#34719c" stroke-width="1.1" stroke-linejoin="round"/>
<g fill="#1f77b4"><circle cx="46.45" cy="329.23" r="2.3"/><circle cx="51.73" cy="392.85" r="2.3"/><circle cx="57.00" cy="424.92" r="2.3"/><circle cx="62.28" cy="435.64" r="2.3"/><circle cx="67.55" cy="439.47" r="2.3"/><circle cx="72.83" cy="440.42" r="2.3"/><circle cx="78.10" cy="444.35" r="2.3"/><circle cx="83.38" cy="445.63" r="2.3"/><circle cx="88.65" cy="446.05" r="2.3"/><circle cx="93.93" cy="446.69" r="2.3"/><circle cx="99.20" cy="447.33" r="2.3"/><circle cx="104.48" cy="447.75" r="2.3"/><circle cx="109.75" cy="448.39" r="2.3"/><circle cx="115.03" cy="448.71" r="2.3"/><circle cx="120.30" cy="448.60" r="2.3"/><circle cx="125.58" cy="449.34" r="2.3"/><circle cx="130.85" cy="449.66" r="2.3"/><circle cx="136.12" cy="449.66" r="2.3"/><circle cx="141.40" cy="449.66" r="2.3"/><circle cx="146.68" cy="449.66" r="2.3"/><circle cx="151.95" cy="448.92" r="2.3"/><circle cx="157.23" cy="449.87" r="2.3"/><circle cx="162.50" cy="450.30" r="2.3"/><circle cx="167.78" cy="449.34" r="2.3"/><circle cx="173.05" cy="450.30" r="2.3"/><circle cx="178.32" cy="450.30" r="2.3"/><circle cx="183.60" cy="450.83" r="2.3"/><circle cx="188.88" cy="450.83" r="2.3"/><circle cx="194.15" cy="450.83" r="2.3"/><circle cx="199.43" cy="451.04" r="2.3"/><circle cx="204.70" cy="450.09" r="2.3"/><circle cx="209.98" cy="451.04" r="2.3"/><circle cx="215.25" cy="451.04" r="2.3"/><circle cx="220.53" cy="451.04" r="2.3"/><circle cx="225.80" cy="451.04" r="2.3"/><circle cx="231.07" cy="451.04" r="2.3"/><circle cx="236.35" cy="451.04" r="2.3"/><circle cx="241.62" cy="451.36" r="2.3"/><circle cx="246.90" cy="451.36" r="2.3"/><circle cx="252.18" cy="451.36" r="2.3"/><circle cx="257.45" cy="451.79" r="2.3"/><circle cx="262.73" cy="451.79" r="2.3"/><circle cx="268.00" cy="451.79" r="2.3"/><circle cx="273.28" cy="452.10" r="2.3"/><circle cx="278.55" cy="452.10" r="2.3"/><circle cx="283.83" cy="452.10" r="2.3"/><circle cx="289.10" cy="452.53" r="2.3"/><circle cx="294.38" cy="452.85" r="2.3"/><circle cx="299.65" cy="451.79" r="2.3"/><circle cx="304.93" cy="452.21" r="2.3"/></g>
<polyline points="46.45,331.99 51.73,392.85 57.00,417.70 62.28,424.07 67.55,427.25 72.83,427.89 78.10,429.91 83.38,431.40 88.65,432.56 93.93,431.61 99.20,433.20 104.48,434.05 109.75,434.69 115.03,435.33 120.30,435.43 125.58,435.86 130.85,436.17 136.12,435.43 141.40,436.17 146.68,435.43 151.95,436.60 157.23,436.92 162.50,436.92 167.78,436.92 173.05,437.24 178.32,437.66 183.60,437.24 188.88,438.09 194.15,437.98 199.43,438.09 204.70,437.24 209.98,438.09 215.25,438.62 220.53,438.62 225.80,438.62 231.07,439.15 236.35,439.15 241.62,439.15 246.90,439.57 252.18,438.09 257.45,439.15 262.73,439.57 268.00,439.57 273.28,439.79 278.55,439.79 283.83,439.79 289.10,439.79 294.38,440.10 299.65,440.53 304.93,440.53" fill="none" stroke="#e08738" stroke-width="1.1" stroke-linejoin="round"/>
<path fill="#ff7f0e" d="M46.45,329.64 L47.16,331.02 L48.68,331.27 L47.59,332.36 L47.83,333.89 L46.45,333.19 L45.07,333.89 L45.31,332.36 L44.22,331.27 L45.74,331.02ZM51.73,390.50 L52.43,391.87 L53.96,392.12 L52.87,393.22 L53.11,394.75 L51.73,394.05 L50.34,394.75 L50.58,393.22 L49.49,392.12 L51.02,391.87ZM57.00,415.35 L57.71,416.73 L59.23,416.97 L58.14,418.07 L58.38,419.60 L57.00,418.90 L55.62,419.60 L55.86,418.07 L54.77,416.97 L56.29,416.73ZM62.28,421.72 L62.98,423.10 L64.51,423.34 L63.42,424.44 L63.66,425.97 L62.28,425.27 L60.89,425.97 L61.13,424.44 L60.04,423.34 L61.57,423.10ZM67.55,424.90 L68.26,426.28 L69.78,426.53 L68.69,427.62 L68.93,429.16 L67.55,428.45 L66.17,429.16 L66.41,427.62 L65.32,426.53 L66.84,426.28ZM72.83,425.54 L73.53,426.92 L75.06,427.17 L73.97,428.26 L74.21,429.79 L72.83,429.09 L71.44,429.79 L71.68,428.26 L70.59,427.17 L72.12,426.92ZM78.10,427.56 L78.81,428.94 L80.33,429.18 L79.24,430.28 L79.48,431.81 L78.10,431.11 L76.72,431.81 L76.96,430.28 L75.87,429.18 L77.39,428.94ZM83.38,429.05 L84.08,430.42 L85.61,430.67 L84.52,431.77 L84.76,433.30 L83.38,432.60 L81.99,433.30 L82.23,431.77 L81.14,430.67 L82.67,430.42ZM88.65,430.21 L89.36,431.59 L90.88,431.84 L89.79,432.93 L90.03,434.47 L88.65,433.76 L87.27,434.47 L87.51,432.93 L86.42,431.84 L87.94,431.59ZM93.93,429.26 L94.63,430.64 L96.16,430.88 L95.07,431.98 L95.31,433.51 L93.93,432.81 L92.54,433.51 L92.78,431.98 L91.69,430.88 L93.22,430.64ZM99.20,430.85 L99.91,432.23 L101.43,432.48 L100.34,433.57 L100.58,435.10 L99.20,434.40 L97.82,435.10 L98.06,433.57 L96.97,432.48 L98.49,432.23ZM104.48,431.70 L105.18,433.08 L106.71,433.32 L105.62,434.42 L105.86,435.95 L104.48,435.25 L103.09,435.95 L103.33,434.42 L102.24,433.32 L103.77,433.08ZM109.75,432.34 L110.46,433.72 L111.98,433.96 L110.89,435.06 L111.13,436.59 L109.75,435.89 L108.37,436.59 L108.61,435.06 L107.52,433.96 L109.04,433.72ZM115.03,432.98 L115.73,434.35 L117.26,434.60 L116.17,435.70 L116.41,437.23 L115.03,436.53 L113.64,437.23 L113.88,435.70 L112.79,434.60 L114.32,434.35ZM120.30,433.08 L121.01,434.46 L122.53,434.71 L121.44,435.80 L121.68,437.33 L120.30,436.63 L118.92,437.33 L119.16,435.80 L118.07,434.71 L119.59,434.46ZM125.58,433.51 L126.28,434.89 L127.81,435.13 L126.72,436.23 L126.96,437.76 L125.58,437.06 L124.19,437.76 L124.43,436.23 L123.34,435.13 L124.87,434.89ZM130.85,433.82 L131.56,435.20 L133.08,435.45 L131.99,436.55 L132.23,438.08 L130.85,437.37 L129.47,438.08 L129.71,436.55 L128.62,435.45 L130.14,435.20ZM136.12,433.08 L136.83,434.46 L138.36,434.71 L137.27,435.80 L137.51,437.33 L136.12,436.63 L134.74,437.33 L134.98,435.80 L133.89,434.71 L135.42,434.46ZM141.40,433.82 L142.11,435.20 L143.63,435.45 L142.54,436.55 L142.78,438.08 L141.40,437.37 L140.02,438.08 L140.26,436.55 L139.17,435.45 L140.69,435.20ZM146.68,433.08 L147.38,434.46 L148.91,434.71 L147.82,435.80 L148.06,437.33 L146.68,436.63 L145.29,437.33 L145.53,435.80 L144.44,434.71 L145.97,434.46ZM151.95,434.25 L152.66,435.63 L154.18,435.87 L153.09,436.97 L153.33,438.50 L151.95,437.80 L150.57,438.50 L150.81,436.97 L149.72,435.87 L151.24,435.63ZM157.23,434.57 L157.93,435.95 L159.46,436.19 L158.37,437.29 L158.61,438.82 L157.23,438.12 L155.84,438.82 L156.08,437.29 L154.99,436.19 L156.52,435.95ZM162.50,434.57 L163.21,435.95 L164.73,436.19 L163.64,437.29 L163.88,438.82 L162.50,438.12 L161.12,438.82 L161.36,437.29 L160.27,436.19 L161.79,435.95ZM167.78,434.57 L168.48,435.95 L170.01,436.19 L168.92,437.29 L169.16,438.82 L167.78,438.12 L166.39,438.82 L166.63,437.29 L165.54,436.19 L167.07,435.95ZM173.05,434.89 L173.76,436.27 L175.28,436.51 L174.19,437.61 L174.43,439.14 L173.05,438.44 L171.67,439.14 L171.91,437.61 L170.82,436.51 L172.34,436.27ZM178.32,435.31 L179.03,436.69 L180.56,436.94 L179.47,438.03 L179.71,439.56 L178.32,438.86 L176.94,439.56 L177.18,438.03 L176.09,436.94 L177.62,436.69ZM183.60,434.89 L184.31,436.27 L185.83,436.51 L184.74,437.61 L184.98,439.14 L183.60,438.44 L182.22,439.14 L182.46,437.61 L181.37,436.51 L182.89,436.27ZM188.88,435.74 L189.58,437.12 L191.11,437.36 L190.02,438.46 L190.26,439.99 L188.88,439.29 L187.49,439.99 L187.73,438.46 L186.64,437.36 L188.17,437.12ZM194.15,435.63 L194.86,437.01 L196.38,437.25 L195.29,438.35 L195.53,439.88 L194.15,439.18 L192.77,439.88 L193.01,438.35 L191.92,437.25 L193.44,437.01ZM199.43,435.74 L200.13,437.12 L201.66,437.36 L200.57,438.46 L200.81,439.99 L199.43,439.29 L198.04,439.99 L198.28,438.46 L197.19,437.36 L198.72,437.12ZM204.70,434.89 L205.41,436.27 L206.93,436.51 L205.84,437.61 L206.08,439.14 L204.70,438.44 L203.32,439.14 L203.56,437.61 L202.47,436.51 L203.99,436.27ZM209.98,435.74 L210.68,437.12 L212.21,437.36 L211.12,438.46 L211.36,439.99 L209.98,439.29 L208.59,439.99 L208.83,438.46 L207.74,437.36 L209.27,437.12ZM215.25,436.27 L215.96,437.65 L217.48,437.89 L216.39,438.99 L216.63,440.52 L215.25,439.82 L213.87,440.52 L214.11,438.99 L213.02,437.89 L214.54,437.65ZM220.53,436.27 L221.23,437.65 L222.76,437.89 L221.67,438.99 L221.91,440.52 L220.53,439.82 L219.14,440.52 L219.38,438.99 L218.29,437.89 L219.82,437.65ZM225.80,436.27 L226.51,437.65 L228.03,437.89 L226.94,438.99 L227.18,440.52 L225.80,439.82 L224.42,440.52 L224.66,438.99 L223.57,437.89 L225.09,437.65ZM231.07,436.80 L231.78,438.18 L233.31,438.42 L232.22,439.52 L232.46,441.05 L231.07,440.35 L229.69,441.05 L229.93,439.52 L228.84,438.42 L230.37,438.18ZM236.35,436.80 L237.06,438.18 L238.58,438.42 L237.49,439.52 L237.73,441.05 L236.35,440.35 L234.97,441.05 L235.21,439.52 L234.12,438.42 L235.64,438.18ZM241.62,436.80 L242.33,438.18 L243.86,438.42 L242.77,439.52 L243.01,441.05 L241.62,440.35 L240.24,441.05 L240.48,439.52 L239.39,438.42 L240.92,438.18ZM246.90,437.22 L247.61,438.60 L249.13,438.85 L248.04,439.94 L248.28,441.47 L246.90,440.77 L245.52,441.47 L245.76,439.94 L244.67,438.85 L246.19,438.60ZM252.18,435.74 L252.88,437.12 L254.41,437.36 L253.32,438.46 L253.56,439.99 L252.18,439.29 L250.79,439.99 L251.03,438.46 L249.94,437.36 L251.47,437.12ZM257.45,436.80 L258.16,438.18 L259.68,438.42 L258.59,439.52 L258.83,441.05 L257.45,440.35 L256.07,441.05 L256.31,439.52 L255.22,438.42 L256.74,438.18ZM262.73,437.22 L263.43,438.60 L264.96,438.85 L263.87,439.94 L264.11,441.47 L262.73,440.77 L261.34,441.47 L261.58,439.94 L260.49,438.85 L262.02,438.60ZM268.00,437.22 L268.71,438.60 L270.23,438.85 L269.14,439.94 L269.38,441.47 L268.00,440.77 L266.62,441.47 L266.86,439.94 L265.77,438.85 L267.29,438.60ZM273.28,437.44 L273.98,438.81 L275.51,439.06 L274.42,440.16 L274.66,441.69 L273.28,440.99 L271.89,441.69 L272.13,440.16 L271.04,439.06 L272.57,438.81ZM278.55,437.44 L279.26,438.81 L280.78,439.06 L279.69,440.16 L279.93,441.69 L278.55,440.99 L277.17,441.69 L277.41,440.16 L276.32,439.06 L277.84,438.81ZM283.83,437.44 L284.53,438.81 L286.06,439.06 L284.97,440.16 L285.21,441.69 L283.83,440.99 L282.44,441.69 L282.68,440.16 L281.59,439.06 L283.12,438.81ZM289.10,437.44 L289.81,438.81 L291.33,439.06 L290.24,440.16 L290.48,441.69 L289.10,440.99 L287.72,441.69 L287.96,440.16 L286.87,439.06 L288.39,438.81ZM294.38,437.75 L295.08,439.13 L296.61,439.38 L295.52,440.48 L295.76,442.01 L294.38,441.30 L292.99,442.01 L293.23,440.48 L292.14,439.38 L293.67,439.13ZM299.65,438.18 L300.36,439.56 L301.88,439.80 L300.79,440.90 L301.03,442.43 L299.65,441.73 L298.27,442.43 L298.51,440.90 L297.42,439.80 L298.94,439.56ZM304.93,438.18 L305.63,439.56 L307.16,439.80 L306.07,440.90 L306.31,442.43 L304.93,441.73 L303.54,442.43 L303.78,440.90 L302.69,439.80 L304.22,439.56Z"/>
<polyline points="46.45,324.24 51.73,376.49 57.00,399.22 62.28,409.62 67.55,416.95 72.83,423.64 78.10,428.53 83.38,431.50 88.65,432.78 93.93,432.78 99.20,434.37 104.48,435.75 109.75,436.07 115.03,437.02 120.30,436.92 125.58,436.81 130.85,437.24 136.12,437.24 141.40,438.09 146.68,438.62 151.95,439.15 157.23,438.40 162.50,438.62 167.78,439.15 173.05,439.15 178.32,439.15 183.60,439.15 188.88,439.15 194.15,439.15 199.43,439.57 204.70,439.57 209.98,439.57 215.25,439.79 220.53,440.00 225.80,440.00 231.07,440.00 236.35,440.00 241.62,440.53 246.90,440.53 252.18,440.53 257.45,440.53 262.73,440.53 268.00,440.95 273.28,440.95 278.55,440.95 283.83,440.95 289.10,441.27 294.38,441.27 299.65,441.70 304.93,441.27" fill="none" stroke="#409240" stroke-width="1.1" stroke-linejoin="round"/>
<g fill="#2ca02c"><circle cx="46.45" cy="324.24" r="1.3"/><circle cx="51.73" cy="376.49" r="1.3"/><circle cx="57.00" cy="399.22" r="1.3"/><circle cx="62.28" cy="409.62" r="1.3"/><circle cx="67.55" cy="416.95" r="1.3"/><circle cx="72.83" cy="423.64" r="1.3"/><circle cx="78.10" cy="428.53" r="1.3"/><circle cx="83.38" cy="431.50" r="1.3"/><circle cx="88.65" cy="432.78" r="1.3"/><circle cx="93.93" cy="432.78" r="1.3"/><circle cx="99.20" cy="434.37" r="1.3"/><circle cx="104.48" cy="435.75" r="1.3"/><circle cx="109.75" cy="436.07" r="1.3"/><circle cx="115.03" cy="437.02" r="1.3"/><circle cx="120.30" cy="436.92" r="1.3"/><circle cx="125.58" cy="436.81" r="1.3"/><circle cx="130.85" cy="437.24" r="1.3"/><circle cx="136.12" cy="437.24" r="1.3"/><circle cx="141.40" cy="438.09" r="1.3"/><circle cx="146.68" cy="438.62" r="1.3"/><circle cx="151.95" cy="439.15" r="1.3"/><circle cx="157.23" cy="438.40" r="1.3"/><circle cx="162.50" cy="438.62" r="1.3"/><circle cx="167.78" cy="439.15" r="1.3"/><circle cx="173.05" cy="439.15" r="1.3"/><circle cx="178.32" cy="439.15" r="1.3"/><circle cx="183.60" cy="439.15" r="1.3"/><circle cx="188.88" cy="439.15" r="1.3"/><circle cx="194.15" cy="439.15" r="1.3"/><circle cx="199.43" cy="439.57" r="1.3"/><circle cx="204.70" cy="439.57" r="1.3"/><circle cx="209.98" cy="439.57" r="1.3"/><circle cx="215.25" cy="439.79" r="1.3"/><circle cx="220.53" cy="440.00" r="1.3"/><circle cx="225.80" cy="440.00" r="1.3"/><circle cx="231.07" cy="440.00" r="1.3"/><circle cx="236.35" cy="440.00" r="1.3"/><circle cx="241.62" cy="440.53" r="1.3"/><circle cx="246.90" cy="440.53" r="1.3"/><circle cx="252.18" cy="440.53" r="1.3"/><circle cx="257.45" cy="440.53" r="1.3"/><circle cx="262.73" cy="440.53" r="1.3"/><circle cx="268.00" cy="440.95" r="1.3"/><circle cx="273.28" cy="440.95" r="1.3"/><circle cx="278.55" cy="440.95" r="1.3"/><circle cx="283.83" cy="440.95" r="1.3"/><circle cx="289.10" cy="441.27" r="1.3"/><circle cx="294.38" cy="441.27" r="1.3"/><circle cx="299.65" cy="441.70" r="1.3"/><circle cx="304.93" cy="441.27" r="1.3"/></g>
<polyline points="46.45,373.09 51.73,500.11 57.00,506.05 62.28,508.28 67.55,509.98 72.83,509.98 78.10,510.41 83.38,511.05 88.65,510.41 93.93,510.94 99.20,510.62 104.48,510.62 109.75,511.05 115.03,511.58 120.30,511.26 125.58,512.00 130.85,511.84 136.12,511.68 141.40,511.65 146.68,511.61 151.95,511.58 157.23,511.84 162.50,512.11 167.78,512.04 173.05,511.97 178.32,511.90 183.60,512.00 188.88,512.11 194.15,512.21 199.43,512.11 204.70,512.00 209.98,512.07 215.25,512.14 220.53,512.21 225.80,512.25 231.07,512.28 236.35,512.32 241.62,512.21 246.90,512.11 252.18,512.16 257.45,512.21 262.73,512.32 268.00,512.43 273.28,512.43 278.55,512.43 283.83,512.43 289.10,512.32 294.38,512.21 299.65,512.37 304.93,512.53" fill="none" stroke="#c83c46" stroke-width="1.1" stroke-linejoin="round"/>
</g>
<rect x="33.7" y="314.8" width="283.70" height="207.60" fill="none" stroke="#262626" stroke-width="0.6"/>
<text x="46.45" y="531.95" font-size="6.95" text-anchor="middle" textLength="3.75" lengthAdjust="spacingAndGlyphs" class="tk">0</text>
<text x="99.20" y="531.95" font-size="6.95" text-anchor="middle" textLength="7.51" lengthAdjust="spacingAndGlyphs" class="tk">10</text>
<text x="151.95" y="531.95" font-size="6.95" text-anchor="middle" textLength="7.51" lengthAdjust="spacingAndGlyphs" class="tk">20</text>
<text x="204.70" y="531.95" font-size="6.95" text-anchor="middle" textLength="7.51" lengthAdjust="spacingAndGlyphs" class="tk">30</text>
<text x="257.45" y="531.95" font-size="6.95" text-anchor="middle" textLength="7.51" lengthAdjust="spacingAndGlyphs" class="tk">40</text>
<text x="28.90" y="517.70" font-size="6.95" text-anchor="end" textLength="13.14" lengthAdjust="spacingAndGlyphs" class="tk">0.00</text>
<text x="28.90" y="491.15" font-size="6.95" text-anchor="end" textLength="13.14" lengthAdjust="spacingAndGlyphs" class="tk">0.25</text>
<text x="28.90" y="464.60" font-size="6.95" text-anchor="end" textLength="13.14" lengthAdjust="spacingAndGlyphs" class="tk">0.50</text>
<text x="28.90" y="438.05" font-size="6.95" text-anchor="end" textLength="13.14" lengthAdjust="spacingAndGlyphs" class="tk">0.75</text>
<text x="28.90" y="411.50" font-size="6.95" text-anchor="end" textLength="13.14" lengthAdjust="spacingAndGlyphs" class="tk">1.00</text>
<text x="28.90" y="384.95" font-size="6.95" text-anchor="end" textLength="13.14" lengthAdjust="spacingAndGlyphs" class="tk">1.25</text>
<text x="28.90" y="358.40" font-size="6.95" text-anchor="end" textLength="13.14" lengthAdjust="spacingAndGlyphs" class="tk">1.50</text>
<text x="28.90" y="331.85" font-size="6.95" text-anchor="end" textLength="13.14" lengthAdjust="spacingAndGlyphs" class="tk">1.75</text>
<path d="M46.45,522.40v2.4 M99.20,522.40v2.4 M151.95,522.40v2.4 M204.70,522.40v2.4 M257.45,522.40v2.4 M33.70,515.40h-2.4 M33.70,488.85h-2.4 M33.70,462.30h-2.4 M33.70,435.75h-2.4 M33.70,409.20h-2.4 M33.70,382.65h-2.4 M33.70,356.10h-2.4 M33.70,329.55h-2.4" stroke="#000" stroke-width="0.6"/>
<text x="175.55" y="310.80" font-size="9.3" text-anchor="middle" textLength="46.14" lengthAdjust="spacingAndGlyphs">Loss-LSTM</text>
<text x="175.55" y="542.20" font-size="9.3" text-anchor="middle" textLength="34.10" lengthAdjust="spacingAndGlyphs">Epoch&#39;s</text>
<g filter="url(#g)"><g transform="translate(10.46,419.20) rotate(-90)"><text x="0.00" y="0.00" font-size="9.3" text-anchor="middle" textLength="24.28" lengthAdjust="spacingAndGlyphs" style="filter:none">Value</text></g></g>
<rect x="196.00" y="319.30" width="117.4" height="55.0" rx="1.8" fill="#fff" fill-opacity="0.8" stroke="#d0d0d0" stroke-width="0.7"/>
<path d="M199.90,326.50h19" stroke="#34719c" stroke-width="1.1"/>
<circle cx="209.40" cy="326.50" r="2.3" fill="#1f77b4"/>
<text x="225.20" y="329.35" font-size="9.3" text-anchor="start" textLength="60.28" lengthAdjust="spacingAndGlyphs">DenseNet201</text>
<path d="M199.90,339.75h19" stroke="#e08738" stroke-width="1.1"/>
<path d="M209.40,337.40 L210.11,338.78 L211.63,339.02 L210.54,340.12 L210.78,341.65 L209.40,340.95 L208.02,341.65 L208.26,340.12 L207.17,339.02 L208.69,338.78Z" fill="#ff7f0e"/>
<text x="225.20" y="342.60" font-size="9.3" text-anchor="start" textLength="63.16" lengthAdjust="spacingAndGlyphs">EfficientNetB3</text>
<path d="M199.90,353.00h19" stroke="#409240" stroke-width="1.1"/>
<circle cx="209.40" cy="353.00" r="1.3" fill="#2ca02c"/>
<text x="225.20" y="355.85" font-size="9.3" text-anchor="start" textLength="84.03" lengthAdjust="spacingAndGlyphs">InceptionResNetV2</text>
<path d="M199.90,366.25h19" stroke="#c83c46" stroke-width="1.1"/>
<text x="225.20" y="369.10" font-size="9.3" text-anchor="start" textLength="42.72" lengthAdjust="spacingAndGlyphs">MultiData</text>
<clipPath id="clipd"><rect x="398.6" y="314.8" width="283.9" height="207.59999999999997"/></clipPath>
<g clip-path="url(#clipd)">
<polyline points="411.50,329.39 416.77,392.74 422.05,406.82 427.32,409.69 432.60,423.51 437.87,427.42 443.14,430.15 448.42,429.11 453.69,431.46 458.97,432.63 464.24,432.63 469.51,432.63 474.79,432.24 480.06,431.72 485.34,432.63 490.61,434.06 495.88,432.50 501.16,434.06 506.43,434.46 511.71,434.98 516.98,434.98 522.25,433.67 527.53,435.24 532.80,434.46 538.08,435.24 543.35,434.98 548.62,434.46 553.90,434.98 559.17,435.24 564.45,434.98 569.72,435.11 574.99,433.67 580.27,435.50 585.54,434.98 590.82,434.98 596.09,434.98 601.36,432.89 606.64,432.24 611.91,434.98 617.19,434.98 622.46,432.50 627.73,435.24 633.01,434.06 638.28,433.41 643.56,433.67 648.83,434.98 654.10,434.46 659.38,434.98 664.65,433.41 669.93,433.67" fill="none" stroke="#34719c" stroke-width="1.1" stroke-linejoin="round"/>
<g fill="#1f77b4"><circle cx="411.50" cy="329.39" r="2.3"/><circle cx="416.77" cy="392.74" r="2.3"/><circle cx="422.05" cy="406.82" r="2.3"/><circle cx="427.32" cy="409.69" r="2.3"/><circle cx="432.60" cy="423.51" r="2.3"/><circle cx="437.87" cy="427.42" r="2.3"/><circle cx="443.14" cy="430.15" r="2.3"/><circle cx="448.42" cy="429.11" r="2.3"/><circle cx="453.69" cy="431.46" r="2.3"/><circle cx="458.97" cy="432.63" r="2.3"/><circle cx="464.24" cy="432.63" r="2.3"/><circle cx="469.51" cy="432.63" r="2.3"/><circle cx="474.79" cy="432.24" r="2.3"/><circle cx="480.06" cy="431.72" r="2.3"/><circle cx="485.34" cy="432.63" r="2.3"/><circle cx="490.61" cy="434.06" r="2.3"/><circle cx="495.88" cy="432.50" r="2.3"/><circle cx="501.16" cy="434.06" r="2.3"/><circle cx="506.43" cy="434.46" r="2.3"/><circle cx="511.71" cy="434.98" r="2.3"/><circle cx="516.98" cy="434.98" r="2.3"/><circle cx="522.25" cy="433.67" r="2.3"/><circle cx="527.53" cy="435.24" r="2.3"/><circle cx="532.80" cy="434.46" r="2.3"/><circle cx="538.08" cy="435.24" r="2.3"/><circle cx="543.35" cy="434.98" r="2.3"/><circle cx="548.62" cy="434.46" r="2.3"/><circle cx="553.90" cy="434.98" r="2.3"/><circle cx="559.17" cy="435.24" r="2.3"/><circle cx="564.45" cy="434.98" r="2.3"/><circle cx="569.72" cy="435.11" r="2.3"/><circle cx="574.99" cy="433.67" r="2.3"/><circle cx="580.27" cy="435.50" r="2.3"/><circle cx="585.54" cy="434.98" r="2.3"/><circle cx="590.82" cy="434.98" r="2.3"/><circle cx="596.09" cy="434.98" r="2.3"/><circle cx="601.36" cy="432.89" r="2.3"/><circle cx="606.64" cy="432.24" r="2.3"/><circle cx="611.91" cy="434.98" r="2.3"/><circle cx="617.19" cy="434.98" r="2.3"/><circle cx="622.46" cy="432.50" r="2.3"/><circle cx="627.73" cy="435.24" r="2.3"/><circle cx="633.01" cy="434.06" r="2.3"/><circle cx="638.28" cy="433.41" r="2.3"/><circle cx="643.56" cy="433.67" r="2.3"/><circle cx="648.83" cy="434.98" r="2.3"/><circle cx="654.10" cy="434.46" r="2.3"/><circle cx="659.38" cy="434.98" r="2.3"/><circle cx="664.65" cy="433.41" r="2.3"/><circle cx="669.93" cy="433.67" r="2.3"/></g>
<polyline points="411.50,339.43 416.77,386.88 422.05,402.13 427.32,409.04 432.60,403.17 437.87,413.21 443.14,413.47 448.42,413.47 453.69,412.56 458.97,415.55 464.24,416.99 469.51,417.38 474.79,417.77 480.06,419.07 485.34,419.20 490.61,419.59 495.88,418.03 501.16,419.20 506.43,417.12 511.71,419.59 516.98,418.68 522.25,420.25 527.53,418.03 532.80,421.16 538.08,418.03 543.35,419.59 548.62,419.99 553.90,420.64 559.17,419.59 564.45,420.64 569.72,420.64 574.99,421.42 580.27,420.25 585.54,419.59 590.82,421.16 596.09,421.16 601.36,420.25 606.64,421.16 611.91,420.64 617.19,421.42 622.46,419.99 627.73,421.42 633.01,420.25 638.28,421.42 643.56,420.64 648.83,419.99 654.10,422.20 659.38,421.16 664.65,421.16 669.93,420.64" fill="none" stroke="#e08738" stroke-width="1.1" stroke-linejoin="round"/>
<path fill="#ff7f0e" d="M411.50,337.08 L412.21,338.45 L413.73,338.70 L412.64,339.80 L412.88,341.33 L411.50,340.63 L410.12,341.33 L410.36,339.80 L409.27,338.70 L410.79,338.45ZM416.77,384.52 L417.48,385.90 L419.01,386.15 L417.92,387.25 L418.16,388.78 L416.77,388.07 L415.39,388.78 L415.63,387.25 L414.54,386.15 L416.07,385.90ZM422.05,399.78 L422.75,401.16 L424.28,401.40 L423.19,402.50 L423.43,404.03 L422.05,403.33 L420.67,404.03 L420.91,402.50 L419.81,401.40 L421.34,401.16ZM427.32,406.69 L428.03,408.06 L429.56,408.31 L428.46,409.41 L428.70,410.94 L427.32,410.24 L425.94,410.94 L426.18,409.41 L425.09,408.31 L426.62,408.06ZM432.60,400.82 L433.30,402.20 L434.83,402.44 L433.74,403.54 L433.98,405.07 L432.60,404.37 L431.21,405.07 L431.45,403.54 L430.36,402.44 L431.89,402.20ZM437.87,410.86 L438.58,412.24 L440.10,412.48 L439.01,413.58 L439.25,415.11 L437.87,414.41 L436.49,415.11 L436.73,413.58 L435.64,412.48 L437.16,412.24ZM443.14,411.12 L443.85,412.50 L445.38,412.74 L444.29,413.84 L444.53,415.37 L443.14,414.67 L441.76,415.37 L442.00,413.84 L440.91,412.74 L442.44,412.50ZM448.42,411.12 L449.12,412.50 L450.65,412.74 L449.56,413.84 L449.80,415.37 L448.42,414.67 L447.04,415.37 L447.28,413.84 L446.18,412.74 L447.71,412.50ZM453.69,410.21 L454.40,411.58 L455.93,411.83 L454.83,412.93 L455.07,414.46 L453.69,413.76 L452.31,414.46 L452.55,412.93 L451.46,411.83 L452.99,411.58ZM458.97,413.20 L459.67,414.58 L461.20,414.83 L460.11,415.92 L460.35,417.45 L458.97,416.75 L457.58,417.45 L457.82,415.92 L456.73,414.83 L458.26,414.58ZM464.24,414.64 L464.95,416.02 L466.47,416.26 L465.38,417.36 L465.62,418.89 L464.24,418.19 L462.86,418.89 L463.10,417.36 L462.01,416.26 L463.53,416.02ZM469.51,415.03 L470.22,416.41 L471.75,416.65 L470.66,417.75 L470.90,419.28 L469.51,418.58 L468.13,419.28 L468.37,417.75 L467.28,416.65 L468.81,416.41ZM474.79,415.42 L475.49,416.80 L477.02,417.04 L475.93,418.14 L476.17,419.67 L474.79,418.97 L473.41,419.67 L473.65,418.14 L472.55,417.04 L474.08,416.80ZM480.06,416.72 L480.77,418.10 L482.30,418.35 L481.20,419.44 L481.44,420.97 L480.06,420.27 L478.68,420.97 L478.92,419.44 L477.83,418.35 L479.36,418.10ZM485.34,416.85 L486.04,418.23 L487.57,418.48 L486.48,419.57 L486.72,421.10 L485.34,420.40 L483.95,421.10 L484.19,419.57 L483.10,418.48 L484.63,418.23ZM490.61,417.24 L491.32,418.62 L492.84,418.87 L491.75,419.97 L491.99,421.50 L490.61,420.79 L489.23,421.50 L489.47,419.97 L488.38,418.87 L489.90,418.62ZM495.88,415.68 L496.59,417.06 L498.12,417.30 L497.03,418.40 L497.27,419.93 L495.88,419.23 L494.50,419.93 L494.74,418.40 L493.65,417.30 L495.18,417.06ZM501.16,416.85 L501.86,418.23 L503.39,418.48 L502.30,419.57 L502.54,421.10 L501.16,420.40 L499.78,421.10 L500.02,419.57 L498.92,418.48 L500.45,418.23ZM506.43,414.77 L507.14,416.15 L508.67,416.39 L507.57,417.49 L507.81,419.02 L506.43,418.32 L505.05,419.02 L505.29,417.49 L504.20,416.39 L505.73,416.15ZM511.71,417.24 L512.41,418.62 L513.94,418.87 L512.85,419.97 L513.09,421.50 L511.71,420.79 L510.32,421.50 L510.56,419.97 L509.47,418.87 L511.00,418.62ZM516.98,416.33 L517.69,417.71 L519.21,417.96 L518.12,419.05 L518.36,420.58 L516.98,419.88 L515.60,420.58 L515.84,419.05 L514.75,417.96 L516.27,417.71ZM522.25,417.90 L522.96,419.28 L524.49,419.52 L523.40,420.62 L523.64,422.15 L522.25,421.45 L520.87,422.15 L521.11,420.62 L520.02,419.52 L521.55,419.28ZM527.53,415.68 L528.23,417.06 L529.76,417.30 L528.67,418.40 L528.91,419.93 L527.53,419.23 L526.15,419.93 L526.39,418.40 L525.29,417.30 L526.82,417.06ZM532.80,418.81 L533.51,420.19 L535.04,420.43 L533.94,421.53 L534.18,423.06 L532.80,422.36 L531.42,423.06 L531.66,421.53 L530.57,420.43 L532.10,420.19ZM538.08,415.68 L538.78,417.06 L540.31,417.30 L539.22,418.40 L539.46,419.93 L538.08,419.23 L536.69,419.93 L536.93,418.40 L535.84,417.30 L537.37,417.06ZM543.35,417.24 L544.06,418.62 L545.58,418.87 L544.49,419.97 L544.73,421.50 L543.35,420.79 L541.97,421.50 L542.21,419.97 L541.12,418.87 L542.64,418.62ZM548.62,417.64 L549.33,419.01 L550.86,419.26 L549.77,420.36 L550.01,421.89 L548.62,421.19 L547.24,421.89 L547.48,420.36 L546.39,419.26 L547.92,419.01ZM553.90,418.29 L554.60,419.67 L556.13,419.91 L555.04,421.01 L555.28,422.54 L553.90,421.84 L552.52,422.54 L552.76,421.01 L551.66,419.91 L553.19,419.67ZM559.17,417.24 L559.88,418.62 L561.41,418.87 L560.31,419.97 L560.55,421.50 L559.17,420.79 L557.79,421.50 L558.03,419.97 L556.94,418.87 L558.47,418.62ZM564.45,418.29 L565.15,419.67 L566.68,419.91 L565.59,421.01 L565.83,422.54 L564.45,421.84 L563.06,422.54 L563.30,421.01 L562.21,419.91 L563.74,419.67ZM569.72,418.29 L570.43,419.67 L571.95,419.91 L570.86,421.01 L571.10,422.54 L569.72,421.84 L568.34,422.54 L568.58,421.01 L567.49,419.91 L569.01,419.67ZM574.99,419.07 L575.70,420.45 L577.23,420.69 L576.14,421.79 L576.38,423.32 L574.99,422.62 L573.61,423.32 L573.85,421.79 L572.76,420.69 L574.29,420.45ZM580.27,417.90 L580.97,419.28 L582.50,419.52 L581.41,420.62 L581.65,422.15 L580.27,421.45 L578.89,422.15 L579.13,420.62 L578.03,419.52 L579.56,419.28ZM585.54,417.24 L586.25,418.62 L587.78,418.87 L586.68,419.97 L586.92,421.50 L585.54,420.79 L584.16,421.50 L584.40,419.97 L583.31,418.87 L584.84,418.62ZM590.82,418.81 L591.52,420.19 L593.05,420.43 L591.96,421.53 L592.20,423.06 L590.82,422.36 L589.43,423.06 L589.67,421.53 L588.58,420.43 L590.11,420.19ZM596.09,418.81 L596.80,420.19 L598.32,420.43 L597.23,421.53 L597.47,423.06 L596.09,422.36 L594.71,423.06 L594.95,421.53 L593.86,420.43 L595.38,420.19ZM601.36,417.90 L602.07,419.28 L603.60,419.52 L602.51,420.62 L602.75,422.15 L601.36,421.45 L599.98,422.15 L600.22,420.62 L599.13,419.52 L600.66,419.28ZM606.64,418.81 L607.34,420.19 L608.87,420.43 L607.78,421.53 L608.02,423.06 L606.64,422.36 L605.26,423.06 L605.50,421.53 L604.40,420.43 L605.93,420.19ZM611.91,418.29 L612.62,419.67 L614.15,419.91 L613.05,421.01 L613.29,422.54 L611.91,421.84 L610.53,422.54 L610.77,421.01 L609.68,419.91 L611.21,419.67ZM617.19,419.07 L617.89,420.45 L619.42,420.69 L618.33,421.79 L618.57,423.32 L617.19,422.62 L615.80,423.32 L616.04,421.79 L614.95,420.69 L616.48,420.45ZM622.46,417.64 L623.17,419.01 L624.69,419.26 L623.60,420.36 L623.84,421.89 L622.46,421.19 L621.08,421.89 L621.32,420.36 L620.23,419.26 L621.75,419.01ZM627.73,419.07 L628.44,420.45 L629.97,420.69 L628.88,421.79 L629.12,423.32 L627.73,422.62 L626.35,423.32 L626.59,421.79 L625.50,420.69 L627.03,420.45ZM633.01,417.90 L633.71,419.28 L635.24,419.52 L634.15,420.62 L634.39,422.15 L633.01,421.45 L631.63,422.15 L631.87,420.62 L630.77,419.52 L632.30,419.28ZM638.28,419.07 L638.99,420.45 L640.52,420.69 L639.42,421.79 L639.66,423.32 L638.28,422.62 L636.90,423.32 L637.14,421.79 L636.05,420.69 L637.58,420.45ZM643.56,418.29 L644.26,419.67 L645.79,419.91 L644.70,421.01 L644.94,422.54 L643.56,421.84 L642.17,422.54 L642.41,421.01 L641.32,419.91 L642.85,419.67ZM648.83,417.64 L649.54,419.01 L651.06,419.26 L649.97,420.36 L650.21,421.89 L648.83,421.19 L647.45,421.89 L647.69,420.36 L646.60,419.26 L648.12,419.01ZM654.10,419.85 L654.81,421.23 L656.34,421.48 L655.25,422.57 L655.49,424.10 L654.10,423.40 L652.72,424.10 L652.96,422.57 L651.87,421.48 L653.40,421.23ZM659.38,418.81 L660.08,420.19 L661.61,420.43 L660.52,421.53 L660.76,423.06 L659.38,422.36 L658.00,423.06 L658.24,421.53 L657.14,420.43 L658.67,420.19ZM664.65,418.81 L665.36,420.19 L666.89,420.43 L665.79,421.53 L666.03,423.06 L664.65,422.36 L663.27,423.06 L663.51,421.53 L662.42,420.43 L663.95,420.19ZM669.93,418.29 L670.63,419.67 L672.16,419.91 L671.07,421.01 L671.31,422.54 L669.93,421.84 L668.54,422.54 L668.78,421.01 L667.69,419.91 L669.22,419.67Z"/>
<polyline points="411.50,324.17 416.77,366.41 422.05,382.31 427.32,394.83 432.60,403.56 437.87,412.16 443.14,416.60 448.42,418.81 453.69,419.73 458.97,421.16 464.24,421.16 469.51,419.73 474.79,423.24 480.06,423.38 485.34,424.16 490.61,423.24 495.88,423.77 501.16,425.72 506.43,423.77 511.71,425.33 516.98,422.20 522.25,425.33 527.53,424.16 532.80,425.72 538.08,425.72 543.35,426.37 548.62,425.72 553.90,425.72 559.17,425.72 564.45,424.81 569.72,425.07 574.99,425.33 580.27,424.16 585.54,424.81 590.82,426.76 596.09,424.16 601.36,425.33 606.64,426.37 611.91,426.37 617.19,426.37 622.46,426.37 627.73,425.33 633.01,424.81 638.28,426.76 643.56,426.37 648.83,426.37 654.10,426.37 659.38,426.37 664.65,425.33 669.93,427.29" fill="none" stroke="#409240" stroke-width="1.1" stroke-linejoin="round"/>
<g fill="#2ca02c"><circle cx="411.50" cy="324.17" r="1.3"/><circle cx="416.77" cy="366.41" r="1.3"/><circle cx="422.05" cy="382.31" r="1.3"/><circle cx="427.32" cy="394.83" r="1.3"/><circle cx="432.60" cy="403.56" r="1.3"/><circle cx="437.87" cy="412.16" r="1.3"/><circle cx="443.14" cy="416.60" r="1.3"/><circle cx="448.42" cy="418.81" r="1.3"/><circle cx="453.69" cy="419.73" r="1.3"/><circle cx="458.97" cy="421.16" r="1.3"/><circle cx="464.24" cy="421.16" r="1.3"/><circle cx="469.51" cy="419.73" r="1.3"/><circle cx="474.79" cy="423.24" r="1.3"/><circle cx="480.06" cy="423.38" r="1.3"/><circle cx="485.34" cy="424.16" r="1.3"/><circle cx="490.61" cy="423.24" r="1.3"/><circle cx="495.88" cy="423.77" r="1.3"/><circle cx="501.16" cy="425.72" r="1.3"/><circle cx="506.43" cy="423.77" r="1.3"/><circle cx="511.71" cy="425.33" r="1.3"/><circle cx="516.98" cy="422.20" r="1.3"/><circle cx="522.25" cy="425.33" r="1.3"/><circle cx="527.53" cy="424.16" r="1.3"/><circle cx="532.80" cy="425.72" r="1.3"/><circle cx="538.08" cy="425.72" r="1.3"/><circle cx="543.35" cy="426.37" r="1.3"/><circle cx="548.62" cy="425.72" r="1.3"/><circle cx="553.90" cy="425.72" r="1.3"/><circle cx="559.17" cy="425.72" r="1.3"/><circle cx="564.45" cy="424.81" r="1.3"/><circle cx="569.72" cy="425.07" r="1.3"/><circle cx="574.99" cy="425.33" r="1.3"/><circle cx="580.27" cy="424.16" r="1.3"/><circle cx="585.54" cy="424.81" r="1.3"/><circle cx="590.82" cy="426.76" r="1.3"/><circle cx="596.09" cy="424.16" r="1.3"/><circle cx="601.36" cy="425.33" r="1.3"/><circle cx="606.64" cy="426.37" r="1.3"/><circle cx="611.91" cy="426.37" r="1.3"/><circle cx="617.19" cy="426.37" r="1.3"/><circle cx="622.46" cy="426.37" r="1.3"/><circle cx="627.73" cy="425.33" r="1.3"/><circle cx="633.01" cy="424.81" r="1.3"/><circle cx="638.28" cy="426.76" r="1.3"/><circle cx="643.56" cy="426.37" r="1.3"/><circle cx="648.83" cy="426.37" r="1.3"/><circle cx="654.10" cy="426.37" r="1.3"/><circle cx="659.38" cy="426.37" r="1.3"/><circle cx="664.65" cy="425.33" r="1.3"/><circle cx="669.93" cy="427.29" r="1.3"/></g>
<polyline points="411.50,483.60 416.77,506.02 422.05,508.11 427.32,510.19 432.60,510.32 437.87,509.80 443.14,510.32 448.42,509.15 453.69,511.37 458.97,510.98 464.24,510.98 469.51,510.71 474.79,511.63 480.06,511.63 485.34,511.76 490.61,512.15 495.88,511.37 501.16,509.93 506.43,511.11 511.71,509.80 516.98,511.76 522.25,512.67 527.53,512.41 532.80,512.41 538.08,512.54 543.35,512.41 548.62,512.15 553.90,511.76 559.17,511.76 564.45,511.76 569.72,511.76 574.99,512.02 580.27,512.67 585.54,512.02 590.82,512.41 596.09,512.67 601.36,512.02 606.64,511.11 611.91,511.76 617.19,512.41 622.46,512.41 627.73,510.98 633.01,512.02 638.28,512.67 643.56,512.02 648.83,512.02 654.10,512.02 659.38,512.02 664.65,511.37 669.93,510.19" fill="none" stroke="#c83c46" stroke-width="1.1" stroke-linejoin="round"/>
</g>
<rect x="398.6" y="314.8" width="283.90" height="207.60" fill="none" stroke="#262626" stroke-width="0.6"/>
<text x="411.50" y="531.95" font-size="6.95" text-anchor="middle" textLength="3.75" lengthAdjust="spacingAndGlyphs" class="tk">0</text>
<text x="464.24" y="531.95" font-size="6.95" text-anchor="middle" textLength="7.51" lengthAdjust="spacingAndGlyphs" class="tk">10</text>
<text x="516.98" y="531.95" font-size="6.95" text-anchor="middle" textLength="7.51" lengthAdjust="spacingAndGlyphs" class="tk">20</text>
<text x="569.72" y="531.95" font-size="6.95" text-anchor="middle" textLength="7.51" lengthAdjust="spacingAndGlyphs" class="tk">30</text>
<text x="622.46" y="531.95" font-size="6.95" text-anchor="middle" textLength="7.51" lengthAdjust="spacingAndGlyphs" class="tk">40</text>
<text x="393.80" y="522.40" font-size="6.95" text-anchor="end" textLength="9.38" lengthAdjust="spacingAndGlyphs" class="tk">0.0</text>
<text x="393.80" y="496.33" font-size="6.95" text-anchor="end" textLength="9.38" lengthAdjust="spacingAndGlyphs" class="tk">0.2</text>
<text x="393.80" y="470.26" font-size="6.95" text-anchor="end" textLength="9.38" lengthAdjust="spacingAndGlyphs" class="tk">0.4</text>
<text x="393.80" y="444.19" font-size="6.95" text-anchor="end" textLength="9.38" lengthAdjust="spacingAndGlyphs" class="tk">0.6</text>
<text x="393.80" y="418.11" font-size="6.95" text-anchor="end" textLength="9.38" lengthAdjust="spacingAndGlyphs" class="tk">0.8</text>
<text x="393.80" y="392.04" font-size="6.95" text-anchor="end" textLength="9.38" lengthAdjust="spacingAndGlyphs" class="tk">1.0</text>
<text x="393.80" y="365.97" font-size="6.95" text-anchor="end" textLength="9.38" lengthAdjust="spacingAndGlyphs" class="tk">1.2</text>
<text x="393.80" y="339.90" font-size="6.95" text-anchor="end" textLength="9.38" lengthAdjust="spacingAndGlyphs" class="tk">1.4</text>
<path d="M411.50,522.40v2.4 M464.24,522.40v2.4 M516.98,522.40v2.4 M569.72,522.40v2.4 M622.46,522.40v2.4 M398.60,520.10h-2.4 M398.60,494.03h-2.4 M398.60,467.96h-2.4 M398.60,441.89h-2.4 M398.60,415.81h-2.4 M398.60,389.74h-2.4 M398.60,363.67h-2.4 M398.60,337.60h-2.4" stroke="#000" stroke-width="0.6"/>
<text x="540.55" y="310.80" font-size="9.3" text-anchor="middle" textLength="92.60" lengthAdjust="spacingAndGlyphs">Validation Loss-LSTM</text>
<text x="540.55" y="542.20" font-size="9.3" text-anchor="middle" textLength="34.10" lengthAdjust="spacingAndGlyphs">Epoch&#39;s</text>
<g filter="url(#g)"><g transform="translate(379.92,419.20) rotate(-90)"><text x="0.00" y="0.00" font-size="9.3" text-anchor="middle" textLength="24.28" lengthAdjust="spacingAndGlyphs" style="filter:none">Value</text></g></g>
<rect x="561.10" y="319.30" width="117.4" height="55.0" rx="1.8" fill="#fff" fill-opacity="0.8" stroke="#d0d0d0" stroke-width="0.7"/>
<path d="M565.00,326.50h19" stroke="#34719c" stroke-width="1.1"/>
<circle cx="574.50" cy="326.50" r="2.3" fill="#1f77b4"/>
<text x="590.30" y="329.35" font-size="9.3" text-anchor="start" textLength="60.28" lengthAdjust="spacingAndGlyphs">DenseNet201</text>
<path d="M565.00,339.75h19" stroke="#e08738" stroke-width="1.1"/>
<path d="M574.50,337.40 L575.21,338.78 L576.73,339.02 L575.64,340.12 L575.88,341.65 L574.50,340.95 L573.12,341.65 L573.36,340.12 L572.27,339.02 L573.79,338.78Z" fill="#ff7f0e"/>
<text x="590.30" y="342.60" font-size="9.3" text-anchor="start" textLength="63.16" lengthAdjust="spacingAndGlyphs">EfficientNetB3</text>
<path d="M565.00,353.00h19" stroke="#409240" stroke-width="1.1"/>
<circle cx="574.50" cy="353.00" r="1.3" fill="#2ca02c"/>
<text x="590.30" y="355.85" font-size="9.3" text-anchor="start" textLength="84.03" lengthAdjust="spacingAndGlyphs">InceptionResNetV2</text>
<path d="M565.00,366.25h19" stroke="#c83c46" stroke-width="1.1"/>
<text x="590.30" y="369.10" font-size="9.3" text-anchor="start" textLength="42.72" lengthAdjust="spacingAndGlyphs">MultiData</text>
<clipPath id="clipe"><rect x="33.7" y="617.9" width="283.7" height="207.39999999999998"/></clipPath>
<g clip-path="url(#clipe)">
<polyline points="46.45,805.04 51.73,719.83 57.00,696.45 62.28,689.54 67.55,684.89 72.83,684.89 78.10,680.50 83.38,680.50 88.65,678.64 93.93,678.38 99.20,677.85 104.48,678.64 109.75,678.11 115.03,677.58 120.30,677.58 125.58,678.11 130.85,678.38 136.12,679.17 141.40,677.58 146.68,677.05 151.95,677.05 157.23,676.52 162.50,677.05 167.78,678.78 173.05,677.58 178.32,678.11 183.60,677.05 188.88,678.11 194.15,677.05 199.43,677.31 204.70,679.44 209.98,676.92 215.25,678.38 220.53,677.31 225.80,677.31 231.07,677.31 236.35,676.92 241.62,677.98 246.90,677.31 252.18,676.92 257.45,676.92 262.73,677.31 268.00,678.91 273.28,676.92 278.55,676.92 283.83,676.92 289.10,676.92 294.38,676.25 299.65,677.58 304.93,678.38" fill="none" stroke="#34719c" stroke-width="1.1" stroke-linejoin="round"/>
<g fill="#1f77b4"><circle cx="46.45" cy="805.04" r="2.3"/><circle cx="51.73" cy="719.83" r="2.3"/><circle cx="57.00" cy="696.45" r="2.3"/><circle cx="62.28" cy="689.54" r="2.3"/><circle cx="67.55" cy="684.89" r="2.3"/><circle cx="72.83" cy="684.89" r="2.3"/><circle cx="78.10" cy="680.50" r="2.3"/><circle cx="83.38" cy="680.50" r="2.3"/><circle cx="88.65" cy="678.64" r="2.3"/><circle cx="93.93" cy="678.38" r="2.3"/><circle cx="99.20" cy="677.85" r="2.3"/><circle cx="104.48" cy="678.64" r="2.3"/><circle cx="109.75" cy="678.11" r="2.3"/><circle cx="115.03" cy="677.58" r="2.3"/><circle cx="120.30" cy="677.58" r="2.3"/><circle cx="125.58" cy="678.11" r="2.3"/><circle cx="130.85" cy="678.38" r="2.3"/><circle cx="136.12" cy="679.17" r="2.3"/><circle cx="141.40" cy="677.58" r="2.3"/><circle cx="146.68" cy="677.05" r="2.3"/><circle cx="151.95" cy="677.05" r="2.3"/><circle cx="157.23" cy="676.52" r="2.3"/><circle cx="162.50" cy="677.05" r="2.3"/><circle cx="167.78" cy="678.78" r="2.3"/><circle cx="173.05" cy="677.58" r="2.3"/><circle cx="178.32" cy="678.11" r="2.3"/><circle cx="183.60" cy="677.05" r="2.3"/><circle cx="188.88" cy="678.11" r="2.3"/><circle cx="194.15" cy="677.05" r="2.3"/><circle cx="199.43" cy="677.31" r="2.3"/><circle cx="204.70" cy="679.44" r="2.3"/><circle cx="209.98" cy="676.92" r="2.3"/><circle cx="215.25" cy="678.38" r="2.3"/><circle cx="220.53" cy="677.31" r="2.3"/><circle cx="225.80" cy="677.31" r="2.3"/><circle cx="231.07" cy="677.31" r="2.3"/><circle cx="236.35" cy="676.92" r="2.3"/><circle cx="241.62" cy="677.98" r="2.3"/><circle cx="246.90" cy="677.31" r="2.3"/><circle cx="252.18" cy="676.92" r="2.3"/><circle cx="257.45" cy="676.92" r="2.3"/><circle cx="262.73" cy="677.31" r="2.3"/><circle cx="268.00" cy="678.91" r="2.3"/><circle cx="273.28" cy="676.92" r="2.3"/><circle cx="278.55" cy="676.92" r="2.3"/><circle cx="283.83" cy="676.92" r="2.3"/><circle cx="289.10" cy="676.92" r="2.3"/><circle cx="294.38" cy="676.25" r="2.3"/><circle cx="299.65" cy="677.58" r="2.3"/><circle cx="304.93" cy="678.38" r="2.3"/></g>
<polyline points="46.45,762.08 51.73,712.92 57.00,696.45 62.28,693.79 67.55,692.73 72.83,693.26 78.10,690.33 83.38,689.54 88.65,689.01 93.93,692.19 99.20,687.68 104.48,689.01 109.75,688.47 115.03,687.41 120.30,689.27 125.58,688.21 130.85,688.74 136.12,688.74 141.40,689.01 146.68,689.01 151.95,686.35 157.23,689.27 162.50,685.82 167.78,688.74 173.05,689.01 178.32,688.74 183.60,687.15 188.88,689.01 194.15,686.88 199.43,687.41 204.70,687.15 209.98,685.55 215.25,688.47 220.53,685.29 225.80,688.21 231.07,689.27 236.35,687.15 241.62,686.88 246.90,687.15 252.18,687.15 257.45,686.08 262.73,685.29 268.00,686.61 273.28,686.88 278.55,686.61 283.83,685.29 289.10,686.61 294.38,685.29 299.65,685.29 304.93,685.02" fill="none" stroke="#e08738" stroke-width="1.1" stroke-linejoin="round"/>
<path fill="#ff7f0e" d="M46.45,759.73 L47.16,761.11 L48.68,761.35 L47.59,762.45 L47.83,763.98 L46.45,763.28 L45.07,763.98 L45.31,762.45 L44.22,761.35 L45.74,761.11ZM51.73,710.57 L52.43,711.95 L53.96,712.19 L52.87,713.29 L53.11,714.82 L51.73,714.12 L50.34,714.82 L50.58,713.29 L49.49,712.19 L51.02,711.95ZM57.00,694.10 L57.71,695.47 L59.23,695.72 L58.14,696.82 L58.38,698.35 L57.00,697.65 L55.62,698.35 L55.86,696.82 L54.77,695.72 L56.29,695.47ZM62.28,691.44 L62.98,692.82 L64.51,693.06 L63.42,694.16 L63.66,695.69 L62.28,694.99 L60.89,695.69 L61.13,694.16 L60.04,693.06 L61.57,692.82ZM67.55,690.38 L68.26,691.75 L69.78,692.00 L68.69,693.10 L68.93,694.63 L67.55,693.93 L66.17,694.63 L66.41,693.10 L65.32,692.00 L66.84,691.75ZM72.83,690.91 L73.53,692.29 L75.06,692.53 L73.97,693.63 L74.21,695.16 L72.83,694.46 L71.44,695.16 L71.68,693.63 L70.59,692.53 L72.12,692.29ZM78.10,687.98 L78.81,689.36 L80.33,689.61 L79.24,690.71 L79.48,692.24 L78.10,691.53 L76.72,692.24 L76.96,690.71 L75.87,689.61 L77.39,689.36ZM83.38,687.19 L84.08,688.57 L85.61,688.81 L84.52,689.91 L84.76,691.44 L83.38,690.74 L81.99,691.44 L82.23,689.91 L81.14,688.81 L82.67,688.57ZM88.65,686.66 L89.36,688.03 L90.88,688.28 L89.79,689.38 L90.03,690.91 L88.65,690.21 L87.27,690.91 L87.51,689.38 L86.42,688.28 L87.94,688.03ZM93.93,689.84 L94.63,691.22 L96.16,691.47 L95.07,692.57 L95.31,694.10 L93.93,693.39 L92.54,694.10 L92.78,692.57 L91.69,691.47 L93.22,691.22ZM99.20,685.33 L99.91,686.71 L101.43,686.95 L100.34,688.05 L100.58,689.58 L99.20,688.88 L97.82,689.58 L98.06,688.05 L96.97,686.95 L98.49,686.71ZM104.48,686.66 L105.18,688.03 L106.71,688.28 L105.62,689.38 L105.86,690.91 L104.48,690.21 L103.09,690.91 L103.33,689.38 L102.24,688.28 L103.77,688.03ZM109.75,686.12 L110.46,687.50 L111.98,687.75 L110.89,688.85 L111.13,690.38 L109.75,689.67 L108.37,690.38 L108.61,688.85 L107.52,687.75 L109.04,687.50ZM115.03,685.06 L115.73,686.44 L117.26,686.69 L116.17,687.78 L116.41,689.31 L115.03,688.61 L113.64,689.31 L113.88,687.78 L112.79,686.69 L114.32,686.44ZM120.30,686.92 L121.01,688.30 L122.53,688.55 L121.44,689.64 L121.68,691.17 L120.30,690.47 L118.92,691.17 L119.16,689.64 L118.07,688.55 L119.59,688.30ZM125.58,685.86 L126.28,687.24 L127.81,687.48 L126.72,688.58 L126.96,690.11 L125.58,689.41 L124.19,690.11 L124.43,688.58 L123.34,687.48 L124.87,687.24ZM130.85,686.39 L131.56,687.77 L133.08,688.01 L131.99,689.11 L132.23,690.64 L130.85,689.94 L129.47,690.64 L129.71,689.11 L128.62,688.01 L130.14,687.77ZM136.12,686.39 L136.83,687.77 L138.36,688.01 L137.27,689.11 L137.51,690.64 L136.12,689.94 L134.74,690.64 L134.98,689.11 L133.89,688.01 L135.42,687.77ZM141.40,686.66 L142.11,688.03 L143.63,688.28 L142.54,689.38 L142.78,690.91 L141.40,690.21 L140.02,690.91 L140.26,689.38 L139.17,688.28 L140.69,688.03ZM146.68,686.66 L147.38,688.03 L148.91,688.28 L147.82,689.38 L148.06,690.91 L146.68,690.21 L145.29,690.91 L145.53,689.38 L144.44,688.28 L145.97,688.03ZM151.95,684.00 L152.66,685.38 L154.18,685.62 L153.09,686.72 L153.33,688.25 L151.95,687.55 L150.57,688.25 L150.81,686.72 L149.72,685.62 L151.24,685.38ZM157.23,686.92 L157.93,688.30 L159.46,688.55 L158.37,689.64 L158.61,691.17 L157.23,690.47 L155.84,691.17 L156.08,689.64 L154.99,688.55 L156.52,688.30ZM162.50,683.47 L163.21,684.85 L164.73,685.09 L163.64,686.19 L163.88,687.72 L162.50,687.02 L161.12,687.72 L161.36,686.19 L160.27,685.09 L161.79,684.85ZM167.78,686.39 L168.48,687.77 L170.01,688.01 L168.92,689.11 L169.16,690.64 L167.78,689.94 L166.39,690.64 L166.63,689.11 L165.54,688.01 L167.07,687.77ZM173.05,686.66 L173.76,688.03 L175.28,688.28 L174.19,689.38 L174.43,690.91 L173.05,690.21 L171.67,690.91 L171.91,689.38 L170.82,688.28 L172.34,688.03ZM178.32,686.39 L179.03,687.77 L180.56,688.01 L179.47,689.11 L179.71,690.64 L178.32,689.94 L176.94,690.64 L177.18,689.11 L176.09,688.01 L177.62,687.77ZM183.60,684.80 L184.31,686.17 L185.83,686.42 L184.74,687.52 L184.98,689.05 L183.60,688.35 L182.22,689.05 L182.46,687.52 L181.37,686.42 L182.89,686.17ZM188.88,686.66 L189.58,688.03 L191.11,688.28 L190.02,689.38 L190.26,690.91 L188.88,690.21 L187.49,690.91 L187.73,689.38 L186.64,688.28 L188.17,688.03ZM194.15,684.53 L194.86,685.91 L196.38,686.15 L195.29,687.25 L195.53,688.78 L194.15,688.08 L192.77,688.78 L193.01,687.25 L191.92,686.15 L193.44,685.91ZM199.43,685.06 L200.13,686.44 L201.66,686.69 L200.57,687.78 L200.81,689.31 L199.43,688.61 L198.04,689.31 L198.28,687.78 L197.19,686.69 L198.72,686.44ZM204.70,684.80 L205.41,686.17 L206.93,686.42 L205.84,687.52 L206.08,689.05 L204.70,688.35 L203.32,689.05 L203.56,687.52 L202.47,686.42 L203.99,686.17ZM209.98,683.20 L210.68,684.58 L212.21,684.83 L211.12,685.92 L211.36,687.45 L209.98,686.75 L208.59,687.45 L208.83,685.92 L207.74,684.83 L209.27,684.58ZM215.25,686.12 L215.96,687.50 L217.48,687.75 L216.39,688.85 L216.63,690.38 L215.25,689.67 L213.87,690.38 L214.11,688.85 L213.02,687.75 L214.54,687.50ZM220.53,682.94 L221.23,684.31 L222.76,684.56 L221.67,685.66 L221.91,687.19 L220.53,686.49 L219.14,687.19 L219.38,685.66 L218.29,684.56 L219.82,684.31ZM225.80,685.86 L226.51,687.24 L228.03,687.48 L226.94,688.58 L227.18,690.11 L225.80,689.41 L224.42,690.11 L224.66,688.58 L223.57,687.48 L225.09,687.24ZM231.07,686.92 L231.78,688.30 L233.31,688.55 L232.22,689.64 L232.46,691.17 L231.07,690.47 L229.69,691.17 L229.93,689.64 L228.84,688.55 L230.37,688.30ZM236.35,684.80 L237.06,686.17 L238.58,686.42 L237.49,687.52 L237.73,689.05 L236.35,688.35 L234.97,689.05 L235.21,687.52 L234.12,686.42 L235.64,686.17ZM241.62,684.53 L242.33,685.91 L243.86,686.15 L242.77,687.25 L243.01,688.78 L241.62,688.08 L240.24,688.78 L240.48,687.25 L239.39,686.15 L240.92,685.91ZM246.90,684.80 L247.61,686.17 L249.13,686.42 L248.04,687.52 L248.28,689.05 L246.90,688.35 L245.52,689.05 L245.76,687.52 L244.67,686.42 L246.19,686.17ZM252.18,684.80 L252.88,686.17 L254.41,686.42 L253.32,687.52 L253.56,689.05 L252.18,688.35 L250.79,689.05 L251.03,687.52 L249.94,686.42 L251.47,686.17ZM257.45,683.73 L258.16,685.11 L259.68,685.36 L258.59,686.45 L258.83,687.98 L257.45,687.28 L256.07,687.98 L256.31,686.45 L255.22,685.36 L256.74,685.11ZM262.73,682.94 L263.43,684.31 L264.96,684.56 L263.87,685.66 L264.11,687.19 L262.73,686.49 L261.34,687.19 L261.58,685.66 L260.49,684.56 L262.02,684.31ZM268.00,684.26 L268.71,685.64 L270.23,685.89 L269.14,686.99 L269.38,688.52 L268.00,687.81 L266.62,688.52 L266.86,686.99 L265.77,685.89 L267.29,685.64ZM273.28,684.53 L273.98,685.91 L275.51,686.15 L274.42,687.25 L274.66,688.78 L273.28,688.08 L271.89,688.78 L272.13,687.25 L271.04,686.15 L272.57,685.91ZM278.55,684.26 L279.26,685.64 L280.78,685.89 L279.69,686.99 L279.93,688.52 L278.55,687.81 L277.17,688.52 L277.41,686.99 L276.32,685.89 L277.84,685.64ZM283.83,682.94 L284.53,684.31 L286.06,684.56 L284.97,685.66 L285.21,687.19 L283.83,686.49 L282.44,687.19 L282.68,685.66 L281.59,684.56 L283.12,684.31ZM289.10,684.26 L289.81,685.64 L291.33,685.89 L290.24,686.99 L290.48,688.52 L289.10,687.81 L287.72,688.52 L287.96,686.99 L286.87,685.89 L288.39,685.64ZM294.38,682.94 L295.08,684.31 L296.61,684.56 L295.52,685.66 L295.76,687.19 L294.38,686.49 L292.99,687.19 L293.23,685.66 L292.14,684.56 L293.67,684.31ZM299.65,682.94 L300.36,684.31 L301.88,684.56 L300.79,685.66 L301.03,687.19 L299.65,686.49 L298.27,687.19 L298.51,685.66 L297.42,684.56 L298.94,684.31ZM304.93,682.67 L305.63,684.05 L307.16,684.29 L306.07,685.39 L306.31,686.92 L304.93,686.22 L303.54,686.92 L303.78,685.39 L302.69,684.29 L304.22,684.05Z"/>
<polyline points="46.45,815.49 51.73,746.13 57.00,723.28 62.28,715.31 67.55,710.26 72.83,698.84 78.10,692.73 83.38,690.87 88.65,689.54 93.93,690.33 99.20,690.33 104.48,689.01 109.75,688.74 115.03,688.74 120.30,689.01 125.58,689.01 130.85,689.27 136.12,689.27 141.40,688.74 146.68,688.74 151.95,689.01 157.23,688.21 162.50,688.74 167.78,689.27 173.05,688.74 178.32,688.74 183.60,689.01 188.88,688.74 194.15,688.74 199.43,688.21 204.70,688.21 209.98,689.27 215.25,688.47 220.53,686.88 225.80,688.74 231.07,687.68 236.35,687.15 241.62,687.68 246.90,688.21 252.18,688.47 257.45,686.88 262.73,688.21 268.00,687.15 273.28,688.74 278.55,688.21 283.83,687.68 289.10,687.68 294.38,687.15 299.65,686.08 304.93,686.61" fill="none" stroke="#409240" stroke-width="1.1" stroke-linejoin="round"/>
<g fill="#2ca02c"><circle cx="46.45" cy="815.49" r="1.3"/><circle cx="51.73" cy="746.13" r="1.3"/><circle cx="57.00" cy="723.28" r="1.3"/><circle cx="62.28" cy="715.31" r="1.3"/><circle cx="67.55" cy="710.26" r="1.3"/><circle cx="72.83" cy="698.84" r="1.3"/><circle cx="78.10" cy="692.73" r="1.3"/><circle cx="83.38" cy="690.87" r="1.3"/><circle cx="88.65" cy="689.54" r="1.3"/><circle cx="93.93" cy="690.33" r="1.3"/><circle cx="99.20" cy="690.33" r="1.3"/><circle cx="104.48" cy="689.01" r="1.3"/><circle cx="109.75" cy="688.74" r="1.3"/><circle cx="115.03" cy="688.74" r="1.3"/><circle cx="120.30" cy="689.01" r="1.3"/><circle cx="125.58" cy="689.01" r="1.3"/><circle cx="130.85" cy="689.27" r="1.3"/><circle cx="136.12" cy="689.27" r="1.3"/><circle cx="141.40" cy="688.74" r="1.3"/><circle cx="146.68" cy="688.74" r="1.3"/><circle cx="151.95" cy="689.01" r="1.3"/><circle cx="157.23" cy="688.21" r="1.3"/><circle cx="162.50" cy="688.74" r="1.3"/><circle cx="167.78" cy="689.27" r="1.3"/><circle cx="173.05" cy="688.74" r="1.3"/><circle cx="178.32" cy="688.74" r="1.3"/><circle cx="183.60" cy="689.01" r="1.3"/><circle cx="188.88" cy="688.74" r="1.3"/><circle cx="194.15" cy="688.74" r="1.3"/><circle cx="199.43" cy="688.21" r="1.3"/><circle cx="204.70" cy="688.21" r="1.3"/><circle cx="209.98" cy="689.27" r="1.3"/><circle cx="215.25" cy="688.47" r="1.3"/><circle cx="220.53" cy="686.88" r="1.3"/><circle cx="225.80" cy="688.74" r="1.3"/><circle cx="231.07" cy="687.68" r="1.3"/><circle cx="236.35" cy="687.15" r="1.3"/><circle cx="241.62" cy="687.68" r="1.3"/><circle cx="246.90" cy="688.21" r="1.3"/><circle cx="252.18" cy="688.47" r="1.3"/><circle cx="257.45" cy="686.88" r="1.3"/><circle cx="262.73" cy="688.21" r="1.3"/><circle cx="268.00" cy="687.15" r="1.3"/><circle cx="273.28" cy="688.74" r="1.3"/><circle cx="278.55" cy="688.21" r="1.3"/><circle cx="283.83" cy="687.68" r="1.3"/><circle cx="289.10" cy="687.68" r="1.3"/><circle cx="294.38" cy="687.15" r="1.3"/><circle cx="299.65" cy="686.08" r="1.3"/><circle cx="304.93" cy="686.61" r="1.3"/></g>
<polyline points="46.45,656.85 51.73,634.27 57.00,631.88 62.28,631.35 67.55,629.22 72.83,630.28 78.10,629.22 83.38,629.22 88.65,629.22 93.93,628.79 99.20,628.68 104.48,628.56 109.75,628.16 115.03,628.16 120.30,628.95 125.58,628.16 130.85,627.76 136.12,627.63 141.40,628.16 146.68,628.79 151.95,629.22 157.23,628.16 162.50,627.63 167.78,628.16 173.05,627.63 178.32,628.16 183.60,628.42 188.88,627.89 194.15,627.89 199.43,628.69 204.70,628.16 209.98,627.89 215.25,628.02 220.53,628.16 225.80,628.29 231.07,628.42 236.35,628.29 241.62,628.16 246.90,628.02 252.18,627.89 257.45,627.89 262.73,627.89 268.00,627.89 273.28,627.89 278.55,627.89 283.83,627.89 289.10,628.42 294.38,627.89 299.65,627.36 304.93,627.63" fill="none" stroke="#c83c46" stroke-width="1.1" stroke-linejoin="round"/>
</g>
<rect x="33.7" y="617.9" width="283.70" height="207.40" fill="none" stroke="#262626" stroke-width="0.6"/>
<text x="46.45" y="834.85" font-size="6.95" text-anchor="middle" textLength="3.75" lengthAdjust="spacingAndGlyphs" class="tk">0</text>
<text x="99.20" y="834.85" font-size="6.95" text-anchor="middle" textLength="7.51" lengthAdjust="spacingAndGlyphs" class="tk">10</text>
<text x="151.95" y="834.85" font-size="6.95" text-anchor="middle" textLength="7.51" lengthAdjust="spacingAndGlyphs" class="tk">20</text>
<text x="204.70" y="834.85" font-size="6.95" text-anchor="middle" textLength="7.51" lengthAdjust="spacingAndGlyphs" class="tk">30</text>
<text x="257.45" y="834.85" font-size="6.95" text-anchor="middle" textLength="7.51" lengthAdjust="spacingAndGlyphs" class="tk">40</text>
<text x="28.90" y="813.80" font-size="6.95" text-anchor="end" textLength="7.51" lengthAdjust="spacingAndGlyphs" class="tk">30</text>
<text x="28.90" y="787.23" font-size="6.95" text-anchor="end" textLength="7.51" lengthAdjust="spacingAndGlyphs" class="tk">40</text>
<text x="28.90" y="760.66" font-size="6.95" text-anchor="end" textLength="7.51" lengthAdjust="spacingAndGlyphs" class="tk">50</text>
<text x="28.90" y="734.09" font-size="6.95" text-anchor="end" textLength="7.51" lengthAdjust="spacingAndGlyphs" class="tk">60</text>
<text x="28.90" y="707.51" font-size="6.95" text-anchor="end" textLength="7.51" lengthAdjust="spacingAndGlyphs" class="tk">70</text>
<text x="28.90" y="680.94" font-size="6.95" text-anchor="end" textLength="7.51" lengthAdjust="spacingAndGlyphs" class="tk">80</text>
<text x="28.90" y="654.37" font-size="6.95" text-anchor="end" textLength="7.51" lengthAdjust="spacingAndGlyphs" class="tk">90</text>
<text x="28.90" y="627.80" font-size="6.95" text-anchor="end" textLength="11.26" lengthAdjust="spacingAndGlyphs" class="tk">100</text>
<path d="M46.45,825.30v2.4 M99.20,825.30v2.4 M151.95,825.30v2.4 M204.70,825.30v2.4 M257.45,825.30v2.4 M33.70,811.50h-2.4 M33.70,784.93h-2.4 M33.70,758.36h-2.4 M33.70,731.79h-2.4 M33.70,705.21h-2.4 M33.70,678.64h-2.4 M33.70,652.07h-2.4 M33.70,625.50h-2.4" stroke="#000" stroke-width="0.6"/>
<text x="175.55" y="613.90" font-size="9.3" text-anchor="middle" textLength="66.20" lengthAdjust="spacingAndGlyphs">Precision-LSTM</text>
<text x="175.55" y="845.10" font-size="9.3" text-anchor="middle" textLength="34.10" lengthAdjust="spacingAndGlyphs">Epoch&#39;s</text>
<g filter="url(#g)"><g transform="translate(13.44,722.20) rotate(-90)"><text x="0.00" y="0.00" font-size="9.3" text-anchor="middle" textLength="49.73" lengthAdjust="spacingAndGlyphs" style="filter:none">Percentage</text></g></g>
<rect x="196.00" y="765.30" width="117.4" height="55.0" rx="1.8" fill="#fff" fill-opacity="0.8" stroke="#d0d0d0" stroke-width="0.7"/>
<path d="M199.90,772.50h19" stroke="#34719c" stroke-width="1.1"/>
<circle cx="209.40" cy="772.50" r="2.3" fill="#1f77b4"/>
<text x="225.20" y="775.35" font-size="9.3" text-anchor="start" textLength="60.28" lengthAdjust="spacingAndGlyphs">DenseNet201</text>
<path d="M199.90,785.75h19" stroke="#e08738" stroke-width="1.1"/>
<path d="M209.40,783.40 L210.11,784.78 L211.63,785.02 L210.54,786.12 L210.78,787.65 L209.40,786.95 L208.02,787.65 L208.26,786.12 L207.17,785.02 L208.69,784.78Z" fill="#ff7f0e"/>
<text x="225.20" y="788.60" font-size="9.3" text-anchor="start" textLength="63.16" lengthAdjust="spacingAndGlyphs">EfficientNetB3</text>
<path d="M199.90,799.00h19" stroke="#409240" stroke-width="1.1"/>
<circle cx="209.40" cy="799.00" r="1.3" fill="#2ca02c"/>
<text x="225.20" y="801.85" font-size="9.3" text-anchor="start" textLength="84.03" lengthAdjust="spacingAndGlyphs">InceptionResNetV2</text>
<path d="M199.90,812.25h19" stroke="#c83c46" stroke-width="1.1"/>
<text x="225.20" y="815.10" font-size="9.3" text-anchor="start" textLength="42.72" lengthAdjust="spacingAndGlyphs">MultiData</text>
<clipPath id="clipf"><rect x="398.6" y="617.9" width="283.9" height="207.39999999999998"/></clipPath>
<g clip-path="url(#clipf)">
<polyline points="411.50,794.84 416.77,732.56 422.05,722.48 427.32,719.60 432.60,706.64 437.87,693.32 443.14,701.06 448.42,693.50 453.69,696.56 458.97,695.12 464.24,694.76 469.51,697.28 474.79,694.04 480.06,699.94 485.34,697.28 490.61,691.52 495.88,698.72 501.16,691.52 506.43,692.96 511.71,692.96 516.98,693.50 522.25,694.58 527.53,693.50 532.80,693.50 538.08,694.04 543.35,695.48 548.62,691.16 553.90,692.96 559.17,691.52 564.45,691.88 569.72,692.42 574.99,698.00 580.27,691.52 585.54,690.08 590.82,691.88 596.09,691.52 601.36,699.08 606.64,695.30 611.91,691.52 617.19,691.52 622.46,698.00 627.73,689.00 633.01,692.60 638.28,695.48 643.56,692.96 648.83,695.12 654.10,694.04 659.38,694.58 664.65,695.48 669.93,692.96" fill="none" stroke="#34719c" stroke-width="1.1" stroke-linejoin="round"/>
<g fill="#1f77b4"><circle cx="411.50" cy="794.84" r="2.3"/><circle cx="416.77" cy="732.56" r="2.3"/><circle cx="422.05" cy="722.48" r="2.3"/><circle cx="427.32" cy="719.60" r="2.3"/><circle cx="432.60" cy="706.64" r="2.3"/><circle cx="437.87" cy="693.32" r="2.3"/><circle cx="443.14" cy="701.06" r="2.3"/><circle cx="448.42" cy="693.50" r="2.3"/><circle cx="453.69" cy="696.56" r="2.3"/><circle cx="458.97" cy="695.12" r="2.3"/><circle cx="464.24" cy="694.76" r="2.3"/><circle cx="469.51" cy="697.28" r="2.3"/><circle cx="474.79" cy="694.04" r="2.3"/><circle cx="480.06" cy="699.94" r="2.3"/><circle cx="485.34" cy="697.28" r="2.3"/><circle cx="490.61" cy="691.52" r="2.3"/><circle cx="495.88" cy="698.72" r="2.3"/><circle cx="501.16" cy="691.52" r="2.3"/><circle cx="506.43" cy="692.96" r="2.3"/><circle cx="511.71" cy="692.96" r="2.3"/><circle cx="516.98" cy="693.50" r="2.3"/><circle cx="522.25" cy="694.58" r="2.3"/><circle cx="527.53" cy="693.50" r="2.3"/><circle cx="532.80" cy="693.50" r="2.3"/><circle cx="538.08" cy="694.04" r="2.3"/><circle cx="543.35" cy="695.48" r="2.3"/><circle cx="548.62" cy="691.16" r="2.3"/><circle cx="553.90" cy="692.96" r="2.3"/><circle cx="559.17" cy="691.52" r="2.3"/><circle cx="564.45" cy="691.88" r="2.3"/><circle cx="569.72" cy="692.42" r="2.3"/><circle cx="574.99" cy="698.00" r="2.3"/><circle cx="580.27" cy="691.52" r="2.3"/><circle cx="585.54" cy="690.08" r="2.3"/><circle cx="590.82" cy="691.88" r="2.3"/><circle cx="596.09" cy="691.52" r="2.3"/><circle cx="601.36" cy="699.08" r="2.3"/><circle cx="606.64" cy="695.30" r="2.3"/><circle cx="611.91" cy="691.52" r="2.3"/><circle cx="617.19" cy="691.52" r="2.3"/><circle cx="622.46" cy="698.00" r="2.3"/><circle cx="627.73" cy="689.00" r="2.3"/><circle cx="633.01" cy="692.60" r="2.3"/><circle cx="638.28" cy="695.48" r="2.3"/><circle cx="643.56" cy="692.96" r="2.3"/><circle cx="648.83" cy="695.12" r="2.3"/><circle cx="654.10" cy="694.04" r="2.3"/><circle cx="659.38" cy="694.58" r="2.3"/><circle cx="664.65" cy="695.48" r="2.3"/><circle cx="669.93" cy="692.96" r="2.3"/></g>
<polyline points="411.50,769.64 416.77,735.80 422.05,701.06 427.32,706.64 432.60,722.48 437.87,703.04 443.14,710.96 448.42,703.04 453.69,713.84 458.97,700.52 464.24,701.42 469.51,701.06 474.79,702.86 480.06,701.60 485.34,700.16 490.61,697.28 495.88,702.68 501.16,704.48 506.43,710.60 511.71,699.94 516.98,707.36 522.25,702.32 527.53,703.40 532.80,704.12 538.08,701.60 543.35,704.48 548.62,705.20 553.90,701.78 559.17,700.70 564.45,698.72 569.72,699.80 574.99,702.32 580.27,703.76 585.54,704.12 590.82,703.04 596.09,703.04 601.36,703.76 606.64,705.74 611.91,703.40 617.19,704.48 622.46,701.60 627.73,703.40 633.01,704.84 638.28,705.20 643.56,706.28 648.83,706.82 654.10,704.12 659.38,705.92 664.65,701.60 669.93,702.68" fill="none" stroke="#e08738" stroke-width="1.1" stroke-linejoin="round"/>
<path fill="#ff7f0e" d="M411.50,767.29 L412.21,768.67 L413.73,768.91 L412.64,770.01 L412.88,771.54 L411.50,770.84 L410.12,771.54 L410.36,770.01 L409.27,768.91 L410.79,768.67ZM416.77,733.45 L417.48,734.83 L419.01,735.07 L417.92,736.17 L418.16,737.70 L416.77,737.00 L415.39,737.70 L415.63,736.17 L414.54,735.07 L416.07,734.83ZM422.05,698.71 L422.75,700.09 L424.28,700.33 L423.19,701.43 L423.43,702.96 L422.05,702.26 L420.67,702.96 L420.91,701.43 L419.81,700.33 L421.34,700.09ZM427.32,704.29 L428.03,705.67 L429.56,705.91 L428.46,707.01 L428.70,708.54 L427.32,707.84 L425.94,708.54 L426.18,707.01 L425.09,705.91 L426.62,705.67ZM432.60,720.13 L433.30,721.51 L434.83,721.75 L433.74,722.85 L433.98,724.38 L432.60,723.68 L431.21,724.38 L431.45,722.85 L430.36,721.75 L431.89,721.51ZM437.87,700.69 L438.58,702.07 L440.10,702.31 L439.01,703.41 L439.25,704.94 L437.87,704.24 L436.49,704.94 L436.73,703.41 L435.64,702.31 L437.16,702.07ZM443.14,708.61 L443.85,709.99 L445.38,710.23 L444.29,711.33 L444.53,712.86 L443.14,712.16 L441.76,712.86 L442.00,711.33 L440.91,710.23 L442.44,709.99ZM448.42,700.69 L449.12,702.07 L450.65,702.31 L449.56,703.41 L449.80,704.94 L448.42,704.24 L447.04,704.94 L447.28,703.41 L446.18,702.31 L447.71,702.07ZM453.69,711.49 L454.40,712.87 L455.93,713.11 L454.83,714.21 L455.07,715.74 L453.69,715.04 L452.31,715.74 L452.55,714.21 L451.46,713.11 L452.99,712.87ZM458.97,698.17 L459.67,699.55 L461.20,699.79 L460.11,700.89 L460.35,702.42 L458.97,701.72 L457.58,702.42 L457.82,700.89 L456.73,699.79 L458.26,699.55ZM464.24,699.07 L464.95,700.45 L466.47,700.69 L465.38,701.79 L465.62,703.32 L464.24,702.62 L462.86,703.32 L463.10,701.79 L462.01,700.69 L463.53,700.45ZM469.51,698.71 L470.22,700.09 L471.75,700.33 L470.66,701.43 L470.90,702.96 L469.51,702.26 L468.13,702.96 L468.37,701.43 L467.28,700.33 L468.81,700.09ZM474.79,700.51 L475.49,701.89 L477.02,702.13 L475.93,703.23 L476.17,704.76 L474.79,704.06 L473.41,704.76 L473.65,703.23 L472.55,702.13 L474.08,701.89ZM480.06,699.25 L480.77,700.63 L482.30,700.87 L481.20,701.97 L481.44,703.50 L480.06,702.80 L478.68,703.50 L478.92,701.97 L477.83,700.87 L479.36,700.63ZM485.34,697.81 L486.04,699.19 L487.57,699.43 L486.48,700.53 L486.72,702.06 L485.34,701.36 L483.95,702.06 L484.19,700.53 L483.10,699.43 L484.63,699.19ZM490.61,694.93 L491.32,696.31 L492.84,696.55 L491.75,697.65 L491.99,699.18 L490.61,698.48 L489.23,699.18 L489.47,697.65 L488.38,696.55 L489.90,696.31ZM495.88,700.33 L496.59,701.71 L498.12,701.95 L497.03,703.05 L497.27,704.58 L495.88,703.88 L494.50,704.58 L494.74,703.05 L493.65,701.95 L495.18,701.71ZM501.16,702.13 L501.86,703.51 L503.39,703.75 L502.30,704.85 L502.54,706.38 L501.16,705.68 L499.78,706.38 L500.02,704.85 L498.92,703.75 L500.45,703.51ZM506.43,708.25 L507.14,709.63 L508.67,709.87 L507.57,710.97 L507.81,712.50 L506.43,711.80 L505.05,712.50 L505.29,710.97 L504.20,709.87 L505.73,709.63ZM511.71,697.59 L512.41,698.97 L513.94,699.22 L512.85,700.31 L513.09,701.85 L511.71,701.14 L510.32,701.85 L510.56,700.31 L509.47,699.22 L511.00,698.97ZM516.98,705.01 L517.69,706.39 L519.21,706.63 L518.12,707.73 L518.36,709.26 L516.98,708.56 L515.60,709.26 L515.84,707.73 L514.75,706.63 L516.27,706.39ZM522.25,699.97 L522.96,701.35 L524.49,701.59 L523.40,702.69 L523.64,704.22 L522.25,703.52 L520.87,704.22 L521.11,702.69 L520.02,701.59 L521.55,701.35ZM527.53,701.05 L528.23,702.43 L529.76,702.67 L528.67,703.77 L528.91,705.30 L527.53,704.60 L526.15,705.30 L526.39,703.77 L525.29,702.67 L526.82,702.43ZM532.80,701.77 L533.51,703.15 L535.04,703.39 L533.94,704.49 L534.18,706.02 L532.80,705.32 L531.42,706.02 L531.66,704.49 L530.57,703.39 L532.10,703.15ZM538.08,699.25 L538.78,700.63 L540.31,700.87 L539.22,701.97 L539.46,703.50 L538.08,702.80 L536.69,703.50 L536.93,701.97 L535.84,700.87 L537.37,700.63ZM543.35,702.13 L544.06,703.51 L545.58,703.75 L544.49,704.85 L544.73,706.38 L543.35,705.68 L541.97,706.38 L542.21,704.85 L541.12,703.75 L542.64,703.51ZM548.62,702.85 L549.33,704.23 L550.86,704.47 L549.77,705.57 L550.01,707.10 L548.62,706.40 L547.24,707.10 L547.48,705.57 L546.39,704.47 L547.92,704.23ZM553.90,699.43 L554.60,700.81 L556.13,701.05 L555.04,702.15 L555.28,703.68 L553.90,702.98 L552.52,703.68 L552.76,702.15 L551.66,701.05 L553.19,700.81ZM559.17,698.35 L559.88,699.73 L561.41,699.97 L560.31,701.07 L560.55,702.60 L559.17,701.90 L557.79,702.60 L558.03,701.07 L556.94,699.97 L558.47,699.73ZM564.45,696.37 L565.15,697.75 L566.68,697.99 L565.59,699.09 L565.83,700.62 L564.45,699.92 L563.06,700.62 L563.30,699.09 L562.21,697.99 L563.74,697.75ZM569.72,697.45 L570.43,698.83 L571.95,699.07 L570.86,700.17 L571.10,701.70 L569.72,701.00 L568.34,701.70 L568.58,700.17 L567.49,699.07 L569.01,698.83ZM574.99,699.97 L575.70,701.35 L577.23,701.59 L576.14,702.69 L576.38,704.22 L574.99,703.52 L573.61,704.22 L573.85,702.69 L572.76,701.59 L574.29,701.35ZM580.27,701.41 L580.97,702.79 L582.50,703.03 L581.41,704.13 L581.65,705.66 L580.27,704.96 L578.89,705.66 L579.13,704.13 L578.03,703.03 L579.56,702.79ZM585.54,701.77 L586.25,703.15 L587.78,703.39 L586.68,704.49 L586.92,706.02 L585.54,705.32 L584.16,706.02 L584.40,704.49 L583.31,703.39 L584.84,703.15ZM590.82,700.69 L591.52,702.07 L593.05,702.31 L591.96,703.41 L592.20,704.94 L590.82,704.24 L589.43,704.94 L589.67,703.41 L588.58,702.31 L590.11,702.07ZM596.09,700.69 L596.80,702.07 L598.32,702.31 L597.23,703.41 L597.47,704.94 L596.09,704.24 L594.71,704.94 L594.95,703.41 L593.86,702.31 L595.38,702.07ZM601.36,701.41 L602.07,702.79 L603.60,703.03 L602.51,704.13 L602.75,705.66 L601.36,704.96 L599.98,705.66 L600.22,704.13 L599.13,703.03 L600.66,702.79ZM606.64,703.39 L607.34,704.77 L608.87,705.01 L607.78,706.11 L608.02,707.64 L606.64,706.94 L605.26,707.64 L605.50,706.11 L604.40,705.01 L605.93,704.77ZM611.91,701.05 L612.62,702.43 L614.15,702.67 L613.05,703.77 L613.29,705.30 L611.91,704.60 L610.53,705.30 L610.77,703.77 L609.68,702.67 L611.21,702.43ZM617.19,702.13 L617.89,703.51 L619.42,703.75 L618.33,704.85 L618.57,706.38 L617.19,705.68 L615.80,706.38 L616.04,704.85 L614.95,703.75 L616.48,703.51ZM622.46,699.25 L623.17,700.63 L624.69,700.87 L623.60,701.97 L623.84,703.50 L622.46,702.80 L621.08,703.50 L621.32,701.97 L620.23,700.87 L621.75,700.63ZM627.73,701.05 L628.44,702.43 L629.97,702.67 L628.88,703.77 L629.12,705.30 L627.73,704.60 L626.35,705.30 L626.59,703.77 L625.50,702.67 L627.03,702.43ZM633.01,702.49 L633.71,703.87 L635.24,704.11 L634.15,705.21 L634.39,706.74 L633.01,706.04 L631.63,706.74 L631.87,705.21 L630.77,704.11 L632.30,703.87ZM638.28,702.85 L638.99,704.23 L640.52,704.47 L639.42,705.57 L639.66,707.10 L638.28,706.40 L636.90,707.10 L637.14,705.57 L636.05,704.47 L637.58,704.23ZM643.56,703.93 L644.26,705.31 L645.79,705.55 L644.70,706.65 L644.94,708.18 L643.56,707.48 L642.17,708.18 L642.41,706.65 L641.32,705.55 L642.85,705.31ZM648.83,704.47 L649.54,705.85 L651.06,706.09 L649.97,707.19 L650.21,708.72 L648.83,708.02 L647.45,708.72 L647.69,707.19 L646.60,706.09 L648.12,705.85ZM654.10,701.77 L654.81,703.15 L656.34,703.39 L655.25,704.49 L655.49,706.02 L654.10,705.32 L652.72,706.02 L652.96,704.49 L651.87,703.39 L653.40,703.15ZM659.38,703.57 L660.08,704.95 L661.61,705.19 L660.52,706.29 L660.76,707.82 L659.38,707.12 L658.00,707.82 L658.24,706.29 L657.14,705.19 L658.67,704.95ZM664.65,699.25 L665.36,700.63 L666.89,700.87 L665.79,701.97 L666.03,703.50 L664.65,702.80 L663.27,703.50 L663.51,701.97 L662.42,700.87 L663.95,700.63ZM669.93,700.33 L670.63,701.71 L672.16,701.95 L671.07,703.05 L671.31,704.58 L669.93,703.88 L668.54,704.58 L668.78,703.05 L667.69,701.95 L669.22,701.71Z"/>
<polyline points="411.50,815.72 416.77,779.72 422.05,768.20 427.32,738.32 432.60,728.96 437.87,716.00 443.14,714.56 448.42,705.56 453.69,708.80 458.97,704.48 464.24,701.60 469.51,710.96 474.79,703.04 480.06,704.12 485.34,698.00 490.61,707.72 495.88,703.76 501.16,701.78 506.43,701.78 511.71,706.82 516.98,708.80 522.25,701.78 527.53,705.20 532.80,702.68 538.08,700.16 543.35,704.12 548.62,702.32 553.90,699.08 559.17,704.12 564.45,705.20 569.72,704.12 574.99,698.54 580.27,705.20 585.54,703.76 590.82,702.32 596.09,706.28 601.36,703.40 606.64,703.76 611.91,703.76 617.19,703.04 622.46,699.94 627.73,699.08 633.01,704.84 638.28,701.78 643.56,704.12 648.83,704.84 654.10,696.92 659.38,701.60 664.65,703.76 669.93,702.32" fill="none" stroke="#409240" stroke-width="1.1" stroke-linejoin="round"/>
<g fill="#2ca02c"><circle cx="411.50" cy="815.72" r="1.3"/><circle cx="416.77" cy="779.72" r="1.3"/><circle cx="422.05" cy="768.20" r="1.3"/><circle cx="427.32" cy="738.32" r="1.3"/><circle cx="432.60" cy="728.96" r="1.3"/><circle cx="437.87" cy="716.00" r="1.3"/><circle cx="443.14" cy="714.56" r="1.3"/><circle cx="448.42" cy="705.56" r="1.3"/><circle cx="453.69" cy="708.80" r="1.3"/><circle cx="458.97" cy="704.48" r="1.3"/><circle cx="464.24" cy="701.60" r="1.3"/><circle cx="469.51" cy="710.96" r="1.3"/><circle cx="474.79" cy="703.04" r="1.3"/><circle cx="480.06" cy="704.12" r="1.3"/><circle cx="485.34" cy="698.00" r="1.3"/><circle cx="490.61" cy="707.72" r="1.3"/><circle cx="495.88" cy="703.76" r="1.3"/><circle cx="501.16" cy="701.78" r="1.3"/><circle cx="506.43" cy="701.78" r="1.3"/><circle cx="511.71" cy="706.82" r="1.3"/><circle cx="516.98" cy="708.80" r="1.3"/><circle cx="522.25" cy="701.78" r="1.3"/><circle cx="527.53" cy="705.20" r="1.3"/><circle cx="532.80" cy="702.68" r="1.3"/><circle cx="538.08" cy="700.16" r="1.3"/><circle cx="543.35" cy="704.12" r="1.3"/><circle cx="548.62" cy="702.32" r="1.3"/><circle cx="553.90" cy="699.08" r="1.3"/><circle cx="559.17" cy="704.12" r="1.3"/><circle cx="564.45" cy="705.20" r="1.3"/><circle cx="569.72" cy="704.12" r="1.3"/><circle cx="574.99" cy="698.54" r="1.3"/><circle cx="580.27" cy="705.20" r="1.3"/><circle cx="585.54" cy="703.76" r="1.3"/><circle cx="590.82" cy="702.32" r="1.3"/><circle cx="596.09" cy="706.28" r="1.3"/><circle cx="601.36" cy="703.40" r="1.3"/><circle cx="606.64" cy="703.76" r="1.3"/><circle cx="611.91" cy="703.76" r="1.3"/><circle cx="617.19" cy="703.04" r="1.3"/><circle cx="622.46" cy="699.94" r="1.3"/><circle cx="627.73" cy="699.08" r="1.3"/><circle cx="633.01" cy="704.84" r="1.3"/><circle cx="638.28" cy="701.78" r="1.3"/><circle cx="643.56" cy="704.12" r="1.3"/><circle cx="648.83" cy="704.84" r="1.3"/><circle cx="654.10" cy="696.92" r="1.3"/><circle cx="659.38" cy="701.60" r="1.3"/><circle cx="664.65" cy="703.76" r="1.3"/><circle cx="669.93" cy="702.32" r="1.3"/></g>
<polyline points="411.50,634.82 416.77,629.96 422.05,632.26 427.32,629.60 432.60,628.52 437.87,629.60 443.14,628.16 448.42,629.24 453.69,628.52 458.97,627.08 464.24,628.52 469.51,628.52 474.79,629.60 480.06,628.52 485.34,629.24 490.61,629.24 495.88,628.16 501.16,629.24 506.43,628.52 511.71,629.96 516.98,629.60 522.25,629.60 527.53,629.24 532.80,629.60 538.08,628.52 543.35,627.44 548.62,627.08 553.90,629.24 559.17,628.52 564.45,629.24 569.72,628.52 574.99,628.52 580.27,628.16 585.54,629.24 590.82,628.16 596.09,628.16 601.36,629.60 606.64,628.16 611.91,629.24 617.19,627.44 622.46,628.52 627.73,629.60 633.01,628.52 638.28,627.44 643.56,629.96 648.83,629.60 654.10,628.52 659.38,628.16 664.65,628.52 669.93,628.52" fill="none" stroke="#c83c46" stroke-width="1.1" stroke-linejoin="round"/>
</g>
<rect x="398.6" y="617.9" width="283.90" height="207.40" fill="none" stroke="#262626" stroke-width="0.6"/>
<text x="411.50" y="834.85" font-size="6.95" text-anchor="middle" textLength="3.75" lengthAdjust="spacingAndGlyphs" class="tk">0</text>
<text x="464.24" y="834.85" font-size="6.95" text-anchor="middle" textLength="7.51" lengthAdjust="spacingAndGlyphs" class="tk">10</text>
<text x="516.98" y="834.85" font-size="6.95" text-anchor="middle" textLength="7.51" lengthAdjust="spacingAndGlyphs" class="tk">20</text>
<text x="569.72" y="834.85" font-size="6.95" text-anchor="middle" textLength="7.51" lengthAdjust="spacingAndGlyphs" class="tk">30</text>
<text x="622.46" y="834.85" font-size="6.95" text-anchor="middle" textLength="7.51" lengthAdjust="spacingAndGlyphs" class="tk">40</text>
<text x="393.80" y="802.90" font-size="6.95" text-anchor="end" textLength="7.51" lengthAdjust="spacingAndGlyphs" class="tk">50</text>
<text x="393.80" y="766.90" font-size="6.95" text-anchor="end" textLength="7.51" lengthAdjust="spacingAndGlyphs" class="tk">60</text>
<text x="393.80" y="730.90" font-size="6.95" text-anchor="end" textLength="7.51" lengthAdjust="spacingAndGlyphs" class="tk">70</text>
<text x="393.80" y="694.90" font-size="6.95" text-anchor="end" textLength="7.51" lengthAdjust="spacingAndGlyphs" class="tk">80</text>
<text x="393.80" y="658.90" font-size="6.95" text-anchor="end" textLength="7.51" lengthAdjust="spacingAndGlyphs" class="tk">90</text>
<text x="393.80" y="622.90" font-size="6.95" text-anchor="end" textLength="11.26" lengthAdjust="spacingAndGlyphs" class="tk">100</text>
<path d="M411.50,825.30v2.4 M464.24,825.30v2.4 M516.98,825.30v2.4 M569.72,825.30v2.4 M622.46,825.30v2.4 M398.60,800.60h-2.4 M398.60,764.60h-2.4 M398.60,728.60h-2.4 M398.60,692.60h-2.4 M398.60,656.60h-2.4 M398.60,620.60h-2.4" stroke="#000" stroke-width="0.6"/>
<text x="540.55" y="613.90" font-size="9.3" text-anchor="middle" textLength="112.66" lengthAdjust="spacingAndGlyphs">Validation Precision-LSTM</text>
<text x="540.55" y="845.10" font-size="9.3" text-anchor="middle" textLength="34.10" lengthAdjust="spacingAndGlyphs">Epoch&#39;s</text>
<g filter="url(#g)"><g transform="translate(378.34,722.20) rotate(-90)"><text x="0.00" y="0.00" font-size="9.3" text-anchor="middle" textLength="49.73" lengthAdjust="spacingAndGlyphs" style="filter:none">Percentage</text></g></g>
<rect x="561.10" y="765.30" width="117.4" height="55.0" rx="1.8" fill="#fff" fill-opacity="0.8" stroke="#d0d0d0" stroke-width="0.7"/>
<path d="M565.00,772.50h19" stroke="#34719c" stroke-width="1.1"/>
<circle cx="574.50" cy="772.50" r="2.3" fill="#1f77b4"/>
<text x="590.30" y="775.35" font-size="9.3" text-anchor="start" textLength="60.28" lengthAdjust="spacingAndGlyphs">DenseNet201</text>
<path d="M565.00,785.75h19" stroke="#e08738" stroke-width="1.1"/>
<path d="M574.50,783.40 L575.21,784.78 L576.73,785.02 L575.64,786.12 L575.88,787.65 L574.50,786.95 L573.12,787.65 L573.36,786.12 L572.27,785.02 L573.79,784.78Z" fill="#ff7f0e"/>
<text x="590.30" y="788.60" font-size="9.3" text-anchor="start" textLength="63.16" lengthAdjust="spacingAndGlyphs">EfficientNetB3</text>
<path d="M565.00,799.00h19" stroke="#409240" stroke-width="1.1"/>
<circle cx="574.50" cy="799.00" r="1.3" fill="#2ca02c"/>
<text x="590.30" y="801.85" font-size="9.3" text-anchor="start" textLength="84.03" lengthAdjust="spacingAndGlyphs">InceptionResNetV2</text>
<path d="M565.00,812.25h19" stroke="#c83c46" stroke-width="1.1"/>
<text x="590.30" y="815.10" font-size="9.3" text-anchor="start" textLength="42.72" lengthAdjust="spacingAndGlyphs">MultiData</text>
<text transform="translate(150.31,271.70) scale(1.15,1)" font-family="Liberation Sans, sans-serif" font-weight="normal" font-size="14.5">(</text>
<text x="156.32" y="273.48" font-family="Liberation Sans, sans-serif" font-weight="bold" font-size="13.5">a</text>
<text transform="translate(165.79,271.70) scale(1.15,1)" font-family="Liberation Sans, sans-serif" font-weight="normal" font-size="14.5">)</text>
<text transform="translate(515.61,271.90) scale(1.15,1)" font-family="Liberation Sans, sans-serif" font-weight="normal" font-size="14.5">(</text>
<text x="521.75" y="273.48" font-family="Liberation Sans, sans-serif" font-weight="normal" font-size="14.5" stroke="#000" stroke-width="0.35">b</text>
<text transform="translate(530.99,271.90) scale(1.15,1)" font-family="Liberation Sans, sans-serif" font-weight="normal" font-size="14.5">)</text>
<text transform="translate(150.71,574.90) scale(1.15,1)" font-family="Liberation Sans, sans-serif" font-weight="normal" font-size="14.5">(</text>
<text x="156.62" y="576.58" font-family="Liberation Sans, sans-serif" font-weight="bold" font-size="13.7">c</text>
<text transform="translate(165.34,574.90) scale(1.15,1)" font-family="Liberation Sans, sans-serif" font-weight="normal" font-size="14.5">)</text>
<text transform="translate(515.61,574.90) scale(1.15,1)" font-family="Liberation Sans, sans-serif" font-weight="normal" font-size="14.5">(</text>
<text x="521.72" y="576.48" font-family="Liberation Sans, sans-serif" font-weight="normal" font-size="14.5" stroke="#000" stroke-width="0.35">d</text>
<text transform="translate(531.09,574.90) scale(1.15,1)" font-family="Liberation Sans, sans-serif" font-weight="normal" font-size="14.5">)</text>
<text transform="translate(150.41,877.70) scale(1.15,1)" font-family="Liberation Sans, sans-serif" font-weight="normal" font-size="14.5">(</text>
<text x="156.46" y="879.77" font-family="Liberation Serif, serif" font-weight="bold" font-size="17.3">e</text>
<text transform="translate(165.79,877.70) scale(1.15,1)" font-family="Liberation Sans, sans-serif" font-weight="normal" font-size="14.5">)</text>
<text transform="translate(517.64,877.70) scale(1.1,1)" font-family="Liberation Sans, sans-serif" font-weight="normal" font-size="14.5">(</text>
<text transform="translate(522.94,879.70) scale(1.45,1)" font-family="Liberation Sans, sans-serif" font-weight="normal" font-size="14.5" stroke="#000" stroke-width="0.35">f</text>
<text transform="translate(528.75,877.70) scale(1.1,1)" font-family="Liberation Sans, sans-serif" font-weight="normal" font-size="14.5">)</text>
</svg>
</body></html>
